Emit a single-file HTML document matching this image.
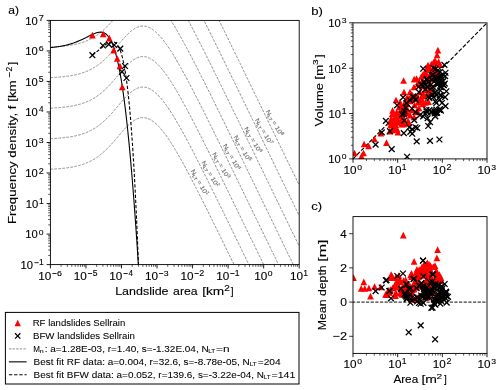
<!DOCTYPE html><html><head><meta charset="utf-8"><style>html,body{margin:0;padding:0;background:#fff;width:500px;height:390px;overflow:hidden} svg text{font-family:"Liberation Sans",sans-serif;stroke:#000;stroke-width:0.12px} g.lg text{stroke-width:0.06px}</style></head><body><svg width="500" height="390" viewBox="0 0 500 390" style="display:block;will-change:transform">
<rect width="500" height="390" fill="#fff"/>
<defs><clipPath id="ca"><rect x="50.4" y="20.4" width="248.79999999999998" height="244.20000000000002"/></clipPath>
<clipPath id="cb"><rect x="353.0" y="22.85" width="134.0" height="136.05"/></clipPath>
<clipPath id="cc"><rect x="353.0" y="216.6" width="134.0" height="136.79999999999998"/></clipPath></defs>
<g clip-path="url(#ca)" fill="none">
<path d="M50.40,169.21 L51.02,169.18 L51.65,169.15 L52.27,169.11 L52.89,169.08 L53.52,169.04 L54.14,169.01 L54.76,168.97 L55.39,168.93 L56.01,168.89 L56.64,168.85 L57.26,168.80 L57.88,168.76 L58.51,168.71 L59.13,168.66 L59.75,168.61 L60.38,168.56 L61.00,168.50 L61.62,168.44 L62.25,168.38 L62.87,168.32 L63.49,168.26 L64.12,168.19 L64.74,168.12 L65.37,168.04 L65.99,167.97 L66.61,167.89 L67.24,167.81 L67.86,167.72 L68.48,167.63 L69.11,167.54 L69.73,167.45 L70.35,167.35 L70.98,167.24 L71.60,167.14 L72.22,167.02 L72.85,166.91 L73.47,166.79 L74.10,166.66 L74.72,166.54 L75.34,166.40 L75.97,166.26 L76.59,166.12 L77.21,165.97 L77.84,165.81 L78.46,165.65 L79.08,165.49 L79.71,165.31 L80.33,165.13 L80.95,164.95 L81.58,164.76 L82.20,164.56 L82.83,164.35 L83.45,164.14 L84.07,163.91 L84.70,163.68 L85.32,163.45 L85.94,163.20 L86.57,162.95 L87.19,162.69 L87.81,162.42 L88.44,162.14 L89.06,161.85 L89.68,161.55 L90.31,161.24 L90.93,160.92 L91.55,160.59 L92.18,160.25 L92.80,159.90 L93.43,159.54 L94.05,159.17 L94.67,158.79 L95.30,158.39 L95.92,157.99 L96.54,157.57 L97.17,157.14 L97.79,156.70 L98.41,156.25 L99.04,155.79 L99.66,155.31 L100.28,154.82 L100.91,154.32 L101.53,153.81 L102.16,153.29 L102.78,152.75 L103.40,152.20 L104.03,151.64 L104.65,151.07 L105.27,150.48 L105.90,149.88 L106.52,149.28 L107.14,148.66 L107.77,148.03 L108.39,147.39 L109.01,146.74 L109.64,146.08 L110.26,145.41 L110.89,144.73 L111.51,144.04 L112.13,143.35 L112.76,142.64 L113.38,141.93 L114.00,141.22 L114.63,140.50 L115.25,139.77 L115.87,139.05 L116.50,138.31 L117.12,137.58 L117.74,136.85 L118.37,136.11 L118.99,135.38 L119.62,134.64 L120.24,133.91 L120.86,133.19 L121.49,132.46 L122.11,131.75 L122.73,131.04 L123.36,130.34 L123.98,129.64 L124.60,128.96 L125.23,128.29 L125.85,127.63 L126.47,126.98 L127.10,126.35 L127.72,125.73 L128.34,125.13 L128.97,124.54 L129.59,123.98 L130.22,123.43 L130.84,122.90 L131.46,122.40 L132.09,121.91 L132.71,121.45 L133.33,121.01 L133.96,120.60 L134.58,120.21 L135.20,119.84 L135.83,119.51 L136.45,119.19 L137.07,118.91 L137.70,118.65 L138.32,118.42 L138.95,118.22 L139.57,118.05 L140.19,117.91 L140.82,117.79 L141.44,117.71 L142.06,117.65 L142.69,117.63 L143.31,117.63 L143.93,117.66 L144.56,117.72 L145.18,117.81 L145.80,117.93 L146.43,118.08 L147.05,118.26 L147.68,118.47 L148.30,118.70 L148.92,118.96 L149.55,119.25 L150.17,119.57 L150.79,119.91 L151.42,120.29 L152.04,120.68 L152.66,121.10 L153.29,121.55 L153.91,122.02 L154.53,122.52 L155.16,123.04 L155.78,123.59 L156.41,124.15 L157.03,124.74 L157.65,125.35 L158.28,125.99 L158.90,126.64 L159.52,127.31 L160.15,128.01 L160.77,128.72 L161.39,129.45 L162.02,130.20 L162.64,130.97 L163.26,131.76 L163.89,132.56 L164.51,133.38 L165.13,134.22 L165.76,135.07 L166.38,135.93 L167.01,136.82 L167.63,137.71 L168.25,138.62 L168.88,139.54 L169.50,140.48 L170.12,141.42 L170.75,142.38 L171.37,143.35 L171.99,144.34 L172.62,145.33 L173.24,146.34 L173.86,147.35 L174.49,148.37 L175.11,149.41 L175.74,150.45 L176.36,151.50 L176.98,152.56 L177.61,153.63 L178.23,154.71 L178.85,155.80 L179.48,156.89 L180.10,157.99 L180.72,159.09 L181.35,160.21 L181.97,161.33 L182.59,162.45 L183.22,163.59 L183.84,164.72 L184.47,165.87 L185.09,167.02 L185.71,168.17 L186.34,169.33 L186.96,170.49 L187.58,171.66 L188.21,172.84 L188.83,174.01 L189.45,175.19 L190.08,176.38 L190.70,177.57 L191.32,178.76 L191.95,179.96 L192.57,181.16 L193.19,182.36 L193.82,183.57 L194.44,184.78 L195.07,185.99 L195.69,187.21 L196.31,188.43 L196.94,189.65 L197.56,190.87 L198.18,192.09 L198.81,193.32 L199.43,194.55 L200.05,195.79 L200.68,197.02 L201.30,198.26 L201.92,199.49 L202.55,200.73 L203.17,201.98 L203.80,203.22 L204.42,204.46 L205.04,205.71 L205.67,206.96 L206.29,208.21 L206.91,209.46 L207.54,210.71 L208.16,211.97 L208.78,213.22 L209.41,214.48 L210.03,215.74 L210.65,216.99 L211.28,218.25 L211.90,219.51 L212.53,220.78 L213.15,222.04 L213.77,223.30 L214.40,224.57 L215.02,225.83 L215.64,227.10 L216.27,228.36 L216.89,229.63 L217.51,230.90 L218.14,232.17 L218.76,233.44 L219.38,234.71 L220.01,235.98 L220.63,237.25 L221.26,238.52 L221.88,239.79 L222.50,241.06 L223.13,242.34 L223.75,243.61 L224.37,244.89 L225.00,246.16 L225.62,247.44 L226.24,248.71 L226.87,249.99 L227.49,251.26 L228.11,252.54 L228.74,253.82 L229.36,255.09 L229.98,256.37 L230.61,257.65 L231.23,258.93 L231.86,260.21 L232.48,261.48 L233.10,262.76 L233.73,264.04 L234.35,265.32 L234.97,266.60 L235.60,267.88 L236.22,269.16 L236.84,270.44 L237.47,271.72 L238.09,273.00 L238.71,274.28 L239.34,275.56 L239.96,276.85 L240.59,278.13 L241.21,279.41 L241.83,280.69 L242.46,281.97 L243.08,283.25 L243.70,284.54 L244.33,285.82 L244.95,287.10 L245.57,288.38 L246.20,289.67 L246.82,290.95 L247.44,292.23 L248.07,293.51 L248.69,294.80 L249.32,296.08 L249.94,297.36 L250.56,298.65 L251.19,299.93 L251.81,301.21 L252.43,302.50 L253.06,303.78 L253.68,305.06 L254.30,306.35 L254.93,307.63 L255.55,308.92 L256.17,310.20 L256.80,311.48 L257.42,312.77 L258.05,314.05 L258.67,315.33 L259.29,316.62 L259.92,317.90 L260.54,319.19 L261.16,320.47 L261.79,321.76 L262.41,323.04 L263.03,324.32 L263.66,325.61 L264.28,326.89 L264.90,328.18 L265.53,329.46 L266.15,330.75 L266.77,332.03 L267.40,333.32 L268.02,334.60 L268.65,335.89 L269.27,337.17 L269.89,338.45 L270.52,339.74 L271.14,341.02 L271.76,342.31 L272.39,343.59 L273.01,344.88 L273.63,346.16 L274.26,347.45 L274.88,348.73 L275.50,350.02 L276.13,351.30 L276.75,352.59 L277.38,353.87 L278.00,355.16 L278.62,356.44 L279.25,357.73 L279.87,359.01 L280.49,360.30 L281.12,361.58 L281.74,362.87 L282.36,364.15 L282.99,365.44 L283.61,366.72 L284.23,368.01 L284.86,369.29 L285.48,370.58 L286.11,371.86 L286.73,373.15 L287.35,374.43 L287.98,375.72 L288.60,377.00 L289.22,378.29 L289.85,379.57 L290.47,380.86 L291.09,382.14 L291.72,383.43 L292.34,384.71 L292.96,386.00 L293.59,387.28 L294.21,388.57 L294.84,389.85 L295.46,391.14 L296.08,392.42 L296.71,393.71 L297.33,394.99 L297.95,396.28 L298.58,397.56 L299.20,398.85" stroke="#777" stroke-width="0.85" stroke-dasharray="2.7,1.3"/>
<path d="M50.40,138.68 L51.02,138.65 L51.65,138.62 L52.27,138.59 L52.89,138.55 L53.52,138.52 L54.14,138.48 L54.76,138.45 L55.39,138.41 L56.01,138.37 L56.64,138.32 L57.26,138.28 L57.88,138.23 L58.51,138.19 L59.13,138.14 L59.75,138.09 L60.38,138.03 L61.00,137.98 L61.62,137.92 L62.25,137.86 L62.87,137.80 L63.49,137.73 L64.12,137.66 L64.74,137.59 L65.37,137.52 L65.99,137.44 L66.61,137.36 L67.24,137.28 L67.86,137.20 L68.48,137.11 L69.11,137.02 L69.73,136.92 L70.35,136.82 L70.98,136.72 L71.60,136.61 L72.22,136.50 L72.85,136.38 L73.47,136.26 L74.10,136.14 L74.72,136.01 L75.34,135.88 L75.97,135.74 L76.59,135.59 L77.21,135.44 L77.84,135.29 L78.46,135.13 L79.08,134.96 L79.71,134.79 L80.33,134.61 L80.95,134.42 L81.58,134.23 L82.20,134.03 L82.83,133.82 L83.45,133.61 L84.07,133.39 L84.70,133.16 L85.32,132.92 L85.94,132.68 L86.57,132.42 L87.19,132.16 L87.81,131.89 L88.44,131.61 L89.06,131.32 L89.68,131.02 L90.31,130.71 L90.93,130.39 L91.55,130.07 L92.18,129.73 L92.80,129.38 L93.43,129.02 L94.05,128.65 L94.67,128.26 L95.30,127.87 L95.92,127.46 L96.54,127.05 L97.17,126.62 L97.79,126.18 L98.41,125.73 L99.04,125.26 L99.66,124.79 L100.28,124.30 L100.91,123.80 L101.53,123.29 L102.16,122.76 L102.78,122.22 L103.40,121.67 L104.03,121.11 L104.65,120.54 L105.27,119.96 L105.90,119.36 L106.52,118.75 L107.14,118.13 L107.77,117.50 L108.39,116.86 L109.01,116.21 L109.64,115.55 L110.26,114.88 L110.89,114.20 L111.51,113.52 L112.13,112.82 L112.76,112.12 L113.38,111.41 L114.00,110.69 L114.63,109.97 L115.25,109.25 L115.87,108.52 L116.50,107.79 L117.12,107.06 L117.74,106.32 L118.37,105.59 L118.99,104.85 L119.62,104.12 L120.24,103.39 L120.86,102.66 L121.49,101.94 L122.11,101.22 L122.73,100.51 L123.36,99.81 L123.98,99.12 L124.60,98.43 L125.23,97.76 L125.85,97.10 L126.47,96.45 L127.10,95.82 L127.72,95.20 L128.34,94.60 L128.97,94.02 L129.59,93.45 L130.22,92.90 L130.84,92.38 L131.46,91.87 L132.09,91.39 L132.71,90.93 L133.33,90.49 L133.96,90.07 L134.58,89.68 L135.20,89.32 L135.83,88.98 L136.45,88.67 L137.07,88.39 L137.70,88.13 L138.32,87.90 L138.95,87.70 L139.57,87.53 L140.19,87.38 L140.82,87.27 L141.44,87.18 L142.06,87.13 L142.69,87.10 L143.31,87.10 L143.93,87.14 L144.56,87.20 L145.18,87.29 L145.80,87.41 L146.43,87.56 L147.05,87.74 L147.68,87.94 L148.30,88.18 L148.92,88.44 L149.55,88.73 L150.17,89.05 L150.79,89.39 L151.42,89.76 L152.04,90.16 L152.66,90.58 L153.29,91.03 L153.91,91.50 L154.53,92.00 L155.16,92.52 L155.78,93.06 L156.41,93.63 L157.03,94.22 L157.65,94.83 L158.28,95.46 L158.90,96.12 L159.52,96.79 L160.15,97.48 L160.77,98.20 L161.39,98.93 L162.02,99.68 L162.64,100.45 L163.26,101.23 L163.89,102.04 L164.51,102.86 L165.13,103.69 L165.76,104.54 L166.38,105.41 L167.01,106.29 L167.63,107.19 L168.25,108.09 L168.88,109.02 L169.50,109.95 L170.12,110.90 L170.75,111.86 L171.37,112.83 L171.99,113.81 L172.62,114.81 L173.24,115.81 L173.86,116.82 L174.49,117.85 L175.11,118.88 L175.74,119.93 L176.36,120.98 L176.98,122.04 L177.61,123.11 L178.23,124.19 L178.85,125.27 L179.48,126.36 L180.10,127.46 L180.72,128.57 L181.35,129.68 L181.97,130.80 L182.59,131.93 L183.22,133.06 L183.84,134.20 L184.47,135.34 L185.09,136.49 L185.71,137.65 L186.34,138.81 L186.96,139.97 L187.58,141.14 L188.21,142.31 L188.83,143.49 L189.45,144.67 L190.08,145.86 L190.70,147.04 L191.32,148.24 L191.95,149.43 L192.57,150.63 L193.19,151.84 L193.82,153.04 L194.44,154.25 L195.07,155.47 L195.69,156.68 L196.31,157.90 L196.94,159.12 L197.56,160.34 L198.18,161.57 L198.81,162.80 L199.43,164.03 L200.05,165.26 L200.68,166.49 L201.30,167.73 L201.92,168.97 L202.55,170.21 L203.17,171.45 L203.80,172.69 L204.42,173.94 L205.04,175.19 L205.67,176.43 L206.29,177.68 L206.91,178.94 L207.54,180.19 L208.16,181.44 L208.78,182.70 L209.41,183.95 L210.03,185.21 L210.65,186.47 L211.28,187.73 L211.90,188.99 L212.53,190.25 L213.15,191.51 L213.77,192.78 L214.40,194.04 L215.02,195.31 L215.64,196.57 L216.27,197.84 L216.89,199.10 L217.51,200.37 L218.14,201.64 L218.76,202.91 L219.38,204.18 L220.01,205.45 L220.63,206.72 L221.26,207.99 L221.88,209.27 L222.50,210.54 L223.13,211.81 L223.75,213.09 L224.37,214.36 L225.00,215.64 L225.62,216.91 L226.24,218.19 L226.87,219.46 L227.49,220.74 L228.11,222.01 L228.74,223.29 L229.36,224.57 L229.98,225.85 L230.61,227.12 L231.23,228.40 L231.86,229.68 L232.48,230.96 L233.10,232.24 L233.73,233.52 L234.35,234.80 L234.97,236.08 L235.60,237.36 L236.22,238.64 L236.84,239.92 L237.47,241.20 L238.09,242.48 L238.71,243.76 L239.34,245.04 L239.96,246.32 L240.59,247.60 L241.21,248.88 L241.83,250.17 L242.46,251.45 L243.08,252.73 L243.70,254.01 L244.33,255.29 L244.95,256.58 L245.57,257.86 L246.20,259.14 L246.82,260.42 L247.44,261.71 L248.07,262.99 L248.69,264.27 L249.32,265.56 L249.94,266.84 L250.56,268.12 L251.19,269.40 L251.81,270.69 L252.43,271.97 L253.06,273.26 L253.68,274.54 L254.30,275.82 L254.93,277.11 L255.55,278.39 L256.17,279.67 L256.80,280.96 L257.42,282.24 L258.05,283.53 L258.67,284.81 L259.29,286.09 L259.92,287.38 L260.54,288.66 L261.16,289.95 L261.79,291.23 L262.41,292.52 L263.03,293.80 L263.66,295.08 L264.28,296.37 L264.90,297.65 L265.53,298.94 L266.15,300.22 L266.77,301.51 L267.40,302.79 L268.02,304.08 L268.65,305.36 L269.27,306.64 L269.89,307.93 L270.52,309.21 L271.14,310.50 L271.76,311.78 L272.39,313.07 L273.01,314.35 L273.63,315.64 L274.26,316.92 L274.88,318.21 L275.50,319.49 L276.13,320.78 L276.75,322.06 L277.38,323.35 L278.00,324.63 L278.62,325.92 L279.25,327.20 L279.87,328.49 L280.49,329.77 L281.12,331.06 L281.74,332.34 L282.36,333.63 L282.99,334.91 L283.61,336.20 L284.23,337.48 L284.86,338.77 L285.48,340.05 L286.11,341.34 L286.73,342.62 L287.35,343.91 L287.98,345.19 L288.60,346.48 L289.22,347.76 L289.85,349.05 L290.47,350.33 L291.09,351.62 L291.72,352.90 L292.34,354.19 L292.96,355.47 L293.59,356.76 L294.21,358.04 L294.84,359.33 L295.46,360.61 L296.08,361.90 L296.71,363.18 L297.33,364.47 L297.95,365.75 L298.58,367.04 L299.20,368.32" stroke="#777" stroke-width="0.85" stroke-dasharray="2.7,1.3"/>
<path d="M50.40,108.16 L51.02,108.13 L51.65,108.10 L52.27,108.06 L52.89,108.03 L53.52,107.99 L54.14,107.96 L54.76,107.92 L55.39,107.88 L56.01,107.84 L56.64,107.80 L57.26,107.75 L57.88,107.71 L58.51,107.66 L59.13,107.61 L59.75,107.56 L60.38,107.51 L61.00,107.45 L61.62,107.39 L62.25,107.33 L62.87,107.27 L63.49,107.21 L64.12,107.14 L64.74,107.07 L65.37,106.99 L65.99,106.92 L66.61,106.84 L67.24,106.76 L67.86,106.67 L68.48,106.58 L69.11,106.49 L69.73,106.40 L70.35,106.30 L70.98,106.19 L71.60,106.09 L72.22,105.97 L72.85,105.86 L73.47,105.74 L74.10,105.61 L74.72,105.49 L75.34,105.35 L75.97,105.21 L76.59,105.07 L77.21,104.92 L77.84,104.76 L78.46,104.60 L79.08,104.44 L79.71,104.26 L80.33,104.08 L80.95,103.90 L81.58,103.71 L82.20,103.51 L82.83,103.30 L83.45,103.09 L84.07,102.86 L84.70,102.63 L85.32,102.40 L85.94,102.15 L86.57,101.90 L87.19,101.64 L87.81,101.37 L88.44,101.09 L89.06,100.80 L89.68,100.50 L90.31,100.19 L90.93,99.87 L91.55,99.54 L92.18,99.20 L92.80,98.85 L93.43,98.49 L94.05,98.12 L94.67,97.74 L95.30,97.34 L95.92,96.94 L96.54,96.52 L97.17,96.09 L97.79,95.65 L98.41,95.20 L99.04,94.74 L99.66,94.26 L100.28,93.77 L100.91,93.27 L101.53,92.76 L102.16,92.24 L102.78,91.70 L103.40,91.15 L104.03,90.59 L104.65,90.02 L105.27,89.43 L105.90,88.83 L106.52,88.23 L107.14,87.61 L107.77,86.98 L108.39,86.34 L109.01,85.69 L109.64,85.03 L110.26,84.36 L110.89,83.68 L111.51,82.99 L112.13,82.30 L112.76,81.59 L113.38,80.88 L114.00,80.17 L114.63,79.45 L115.25,78.72 L115.87,78.00 L116.50,77.26 L117.12,76.53 L117.74,75.80 L118.37,75.06 L118.99,74.33 L119.62,73.59 L120.24,72.86 L120.86,72.14 L121.49,71.41 L122.11,70.70 L122.73,69.99 L123.36,69.29 L123.98,68.59 L124.60,67.91 L125.23,67.24 L125.85,66.58 L126.47,65.93 L127.10,65.30 L127.72,64.68 L128.34,64.08 L128.97,63.49 L129.59,62.93 L130.22,62.38 L130.84,61.85 L131.46,61.35 L132.09,60.86 L132.71,60.40 L133.33,59.96 L133.96,59.55 L134.58,59.16 L135.20,58.79 L135.83,58.46 L136.45,58.14 L137.07,57.86 L137.70,57.60 L138.32,57.37 L138.95,57.17 L139.57,57.00 L140.19,56.86 L140.82,56.74 L141.44,56.66 L142.06,56.60 L142.69,56.58 L143.31,56.58 L143.93,56.61 L144.56,56.67 L145.18,56.76 L145.80,56.88 L146.43,57.03 L147.05,57.21 L147.68,57.42 L148.30,57.65 L148.92,57.91 L149.55,58.20 L150.17,58.52 L150.79,58.86 L151.42,59.24 L152.04,59.63 L152.66,60.05 L153.29,60.50 L153.91,60.97 L154.53,61.47 L155.16,61.99 L155.78,62.54 L156.41,63.10 L157.03,63.69 L157.65,64.30 L158.28,64.94 L158.90,65.59 L159.52,66.26 L160.15,66.96 L160.77,67.67 L161.39,68.40 L162.02,69.15 L162.64,69.92 L163.26,70.71 L163.89,71.51 L164.51,72.33 L165.13,73.17 L165.76,74.02 L166.38,74.88 L167.01,75.77 L167.63,76.66 L168.25,77.57 L168.88,78.49 L169.50,79.43 L170.12,80.37 L170.75,81.33 L171.37,82.30 L171.99,83.29 L172.62,84.28 L173.24,85.29 L173.86,86.30 L174.49,87.32 L175.11,88.36 L175.74,89.40 L176.36,90.45 L176.98,91.51 L177.61,92.58 L178.23,93.66 L178.85,94.75 L179.48,95.84 L180.10,96.94 L180.72,98.04 L181.35,99.16 L181.97,100.28 L182.59,101.40 L183.22,102.54 L183.84,103.67 L184.47,104.82 L185.09,105.97 L185.71,107.12 L186.34,108.28 L186.96,109.44 L187.58,110.61 L188.21,111.79 L188.83,112.96 L189.45,114.14 L190.08,115.33 L190.70,116.52 L191.32,117.71 L191.95,118.91 L192.57,120.11 L193.19,121.31 L193.82,122.52 L194.44,123.73 L195.07,124.94 L195.69,126.16 L196.31,127.38 L196.94,128.60 L197.56,129.82 L198.18,131.04 L198.81,132.27 L199.43,133.50 L200.05,134.74 L200.68,135.97 L201.30,137.21 L201.92,138.44 L202.55,139.68 L203.17,140.93 L203.80,142.17 L204.42,143.41 L205.04,144.66 L205.67,145.91 L206.29,147.16 L206.91,148.41 L207.54,149.66 L208.16,150.92 L208.78,152.17 L209.41,153.43 L210.03,154.69 L210.65,155.94 L211.28,157.20 L211.90,158.46 L212.53,159.73 L213.15,160.99 L213.77,162.25 L214.40,163.52 L215.02,164.78 L215.64,166.05 L216.27,167.31 L216.89,168.58 L217.51,169.85 L218.14,171.12 L218.76,172.39 L219.38,173.66 L220.01,174.93 L220.63,176.20 L221.26,177.47 L221.88,178.74 L222.50,180.01 L223.13,181.29 L223.75,182.56 L224.37,183.84 L225.00,185.11 L225.62,186.39 L226.24,187.66 L226.87,188.94 L227.49,190.21 L228.11,191.49 L228.74,192.77 L229.36,194.04 L229.98,195.32 L230.61,196.60 L231.23,197.88 L231.86,199.16 L232.48,200.43 L233.10,201.71 L233.73,202.99 L234.35,204.27 L234.97,205.55 L235.60,206.83 L236.22,208.11 L236.84,209.39 L237.47,210.67 L238.09,211.95 L238.71,213.23 L239.34,214.51 L239.96,215.80 L240.59,217.08 L241.21,218.36 L241.83,219.64 L242.46,220.92 L243.08,222.20 L243.70,223.49 L244.33,224.77 L244.95,226.05 L245.57,227.33 L246.20,228.62 L246.82,229.90 L247.44,231.18 L248.07,232.46 L248.69,233.75 L249.32,235.03 L249.94,236.31 L250.56,237.60 L251.19,238.88 L251.81,240.16 L252.43,241.45 L253.06,242.73 L253.68,244.01 L254.30,245.30 L254.93,246.58 L255.55,247.87 L256.17,249.15 L256.80,250.43 L257.42,251.72 L258.05,253.00 L258.67,254.28 L259.29,255.57 L259.92,256.85 L260.54,258.14 L261.16,259.42 L261.79,260.71 L262.41,261.99 L263.03,263.27 L263.66,264.56 L264.28,265.84 L264.90,267.13 L265.53,268.41 L266.15,269.70 L266.77,270.98 L267.40,272.27 L268.02,273.55 L268.65,274.84 L269.27,276.12 L269.89,277.40 L270.52,278.69 L271.14,279.97 L271.76,281.26 L272.39,282.54 L273.01,283.83 L273.63,285.11 L274.26,286.40 L274.88,287.68 L275.50,288.97 L276.13,290.25 L276.75,291.54 L277.38,292.82 L278.00,294.11 L278.62,295.39 L279.25,296.68 L279.87,297.96 L280.49,299.25 L281.12,300.53 L281.74,301.82 L282.36,303.10 L282.99,304.39 L283.61,305.67 L284.23,306.96 L284.86,308.24 L285.48,309.53 L286.11,310.81 L286.73,312.10 L287.35,313.38 L287.98,314.67 L288.60,315.95 L289.22,317.24 L289.85,318.52 L290.47,319.81 L291.09,321.09 L291.72,322.38 L292.34,323.66 L292.96,324.95 L293.59,326.23 L294.21,327.52 L294.84,328.80 L295.46,330.09 L296.08,331.37 L296.71,332.66 L297.33,333.94 L297.95,335.23 L298.58,336.51 L299.20,337.80" stroke="#777" stroke-width="0.85" stroke-dasharray="2.7,1.3"/>
<path d="M50.40,77.63 L51.02,77.60 L51.65,77.57 L52.27,77.54 L52.89,77.50 L53.52,77.47 L54.14,77.43 L54.76,77.40 L55.39,77.36 L56.01,77.32 L56.64,77.27 L57.26,77.23 L57.88,77.18 L58.51,77.14 L59.13,77.09 L59.75,77.04 L60.38,76.98 L61.00,76.93 L61.62,76.87 L62.25,76.81 L62.87,76.75 L63.49,76.68 L64.12,76.61 L64.74,76.54 L65.37,76.47 L65.99,76.39 L66.61,76.31 L67.24,76.23 L67.86,76.15 L68.48,76.06 L69.11,75.97 L69.73,75.87 L70.35,75.77 L70.98,75.67 L71.60,75.56 L72.22,75.45 L72.85,75.33 L73.47,75.21 L74.10,75.09 L74.72,74.96 L75.34,74.83 L75.97,74.69 L76.59,74.54 L77.21,74.39 L77.84,74.24 L78.46,74.08 L79.08,73.91 L79.71,73.74 L80.33,73.56 L80.95,73.37 L81.58,73.18 L82.20,72.98 L82.83,72.77 L83.45,72.56 L84.07,72.34 L84.70,72.11 L85.32,71.87 L85.94,71.63 L86.57,71.37 L87.19,71.11 L87.81,70.84 L88.44,70.56 L89.06,70.27 L89.68,69.97 L90.31,69.66 L90.93,69.34 L91.55,69.02 L92.18,68.68 L92.80,68.33 L93.43,67.97 L94.05,67.60 L94.67,67.21 L95.30,66.82 L95.92,66.41 L96.54,66.00 L97.17,65.57 L97.79,65.13 L98.41,64.68 L99.04,64.21 L99.66,63.74 L100.28,63.25 L100.91,62.75 L101.53,62.24 L102.16,61.71 L102.78,61.17 L103.40,60.62 L104.03,60.06 L104.65,59.49 L105.27,58.91 L105.90,58.31 L106.52,57.70 L107.14,57.08 L107.77,56.45 L108.39,55.81 L109.01,55.16 L109.64,54.50 L110.26,53.83 L110.89,53.15 L111.51,52.47 L112.13,51.77 L112.76,51.07 L113.38,50.36 L114.00,49.64 L114.63,48.92 L115.25,48.20 L115.87,47.47 L116.50,46.74 L117.12,46.01 L117.74,45.27 L118.37,44.54 L118.99,43.80 L119.62,43.07 L120.24,42.34 L120.86,41.61 L121.49,40.89 L122.11,40.17 L122.73,39.46 L123.36,38.76 L123.98,38.07 L124.60,37.38 L125.23,36.71 L125.85,36.05 L126.47,35.40 L127.10,34.77 L127.72,34.15 L128.34,33.55 L128.97,32.97 L129.59,32.40 L130.22,31.85 L130.84,31.33 L131.46,30.82 L132.09,30.34 L132.71,29.88 L133.33,29.44 L133.96,29.02 L134.58,28.63 L135.20,28.27 L135.83,27.93 L136.45,27.62 L137.07,27.34 L137.70,27.08 L138.32,26.85 L138.95,26.65 L139.57,26.48 L140.19,26.33 L140.82,26.22 L141.44,26.13 L142.06,26.08 L142.69,26.05 L143.31,26.05 L143.93,26.09 L144.56,26.15 L145.18,26.24 L145.80,26.36 L146.43,26.51 L147.05,26.69 L147.68,26.89 L148.30,27.13 L148.92,27.39 L149.55,27.68 L150.17,28.00 L150.79,28.34 L151.42,28.71 L152.04,29.11 L152.66,29.53 L153.29,29.98 L153.91,30.45 L154.53,30.95 L155.16,31.47 L155.78,32.01 L156.41,32.58 L157.03,33.17 L157.65,33.78 L158.28,34.41 L158.90,35.07 L159.52,35.74 L160.15,36.43 L160.77,37.15 L161.39,37.88 L162.02,38.63 L162.64,39.40 L163.26,40.18 L163.89,40.99 L164.51,41.81 L165.13,42.64 L165.76,43.49 L166.38,44.36 L167.01,45.24 L167.63,46.14 L168.25,47.04 L168.88,47.97 L169.50,48.90 L170.12,49.85 L170.75,50.81 L171.37,51.78 L171.99,52.76 L172.62,53.76 L173.24,54.76 L173.86,55.77 L174.49,56.80 L175.11,57.83 L175.74,58.88 L176.36,59.93 L176.98,60.99 L177.61,62.06 L178.23,63.14 L178.85,64.22 L179.48,65.31 L180.10,66.41 L180.72,67.52 L181.35,68.63 L181.97,69.75 L182.59,70.88 L183.22,72.01 L183.84,73.15 L184.47,74.29 L185.09,75.44 L185.71,76.60 L186.34,77.76 L186.96,78.92 L187.58,80.09 L188.21,81.26 L188.83,82.44 L189.45,83.62 L190.08,84.81 L190.70,85.99 L191.32,87.19 L191.95,88.38 L192.57,89.58 L193.19,90.79 L193.82,91.99 L194.44,93.20 L195.07,94.42 L195.69,95.63 L196.31,96.85 L196.94,98.07 L197.56,99.29 L198.18,100.52 L198.81,101.75 L199.43,102.98 L200.05,104.21 L200.68,105.44 L201.30,106.68 L201.92,107.92 L202.55,109.16 L203.17,110.40 L203.80,111.64 L204.42,112.89 L205.04,114.14 L205.67,115.38 L206.29,116.63 L206.91,117.89 L207.54,119.14 L208.16,120.39 L208.78,121.65 L209.41,122.90 L210.03,124.16 L210.65,125.42 L211.28,126.68 L211.90,127.94 L212.53,129.20 L213.15,130.46 L213.77,131.73 L214.40,132.99 L215.02,134.26 L215.64,135.52 L216.27,136.79 L216.89,138.05 L217.51,139.32 L218.14,140.59 L218.76,141.86 L219.38,143.13 L220.01,144.40 L220.63,145.67 L221.26,146.94 L221.88,148.22 L222.50,149.49 L223.13,150.76 L223.75,152.04 L224.37,153.31 L225.00,154.59 L225.62,155.86 L226.24,157.14 L226.87,158.41 L227.49,159.69 L228.11,160.96 L228.74,162.24 L229.36,163.52 L229.98,164.80 L230.61,166.07 L231.23,167.35 L231.86,168.63 L232.48,169.91 L233.10,171.19 L233.73,172.47 L234.35,173.75 L234.97,175.03 L235.60,176.31 L236.22,177.59 L236.84,178.87 L237.47,180.15 L238.09,181.43 L238.71,182.71 L239.34,183.99 L239.96,185.27 L240.59,186.55 L241.21,187.83 L241.83,189.12 L242.46,190.40 L243.08,191.68 L243.70,192.96 L244.33,194.24 L244.95,195.53 L245.57,196.81 L246.20,198.09 L246.82,199.37 L247.44,200.66 L248.07,201.94 L248.69,203.22 L249.32,204.51 L249.94,205.79 L250.56,207.07 L251.19,208.35 L251.81,209.64 L252.43,210.92 L253.06,212.21 L253.68,213.49 L254.30,214.77 L254.93,216.06 L255.55,217.34 L256.17,218.62 L256.80,219.91 L257.42,221.19 L258.05,222.48 L258.67,223.76 L259.29,225.04 L259.92,226.33 L260.54,227.61 L261.16,228.90 L261.79,230.18 L262.41,231.47 L263.03,232.75 L263.66,234.03 L264.28,235.32 L264.90,236.60 L265.53,237.89 L266.15,239.17 L266.77,240.46 L267.40,241.74 L268.02,243.03 L268.65,244.31 L269.27,245.59 L269.89,246.88 L270.52,248.16 L271.14,249.45 L271.76,250.73 L272.39,252.02 L273.01,253.30 L273.63,254.59 L274.26,255.87 L274.88,257.16 L275.50,258.44 L276.13,259.73 L276.75,261.01 L277.38,262.30 L278.00,263.58 L278.62,264.87 L279.25,266.15 L279.87,267.44 L280.49,268.72 L281.12,270.01 L281.74,271.29 L282.36,272.58 L282.99,273.86 L283.61,275.15 L284.23,276.43 L284.86,277.72 L285.48,279.00 L286.11,280.29 L286.73,281.57 L287.35,282.86 L287.98,284.14 L288.60,285.43 L289.22,286.71 L289.85,288.00 L290.47,289.28 L291.09,290.57 L291.72,291.85 L292.34,293.14 L292.96,294.42 L293.59,295.71 L294.21,296.99 L294.84,298.28 L295.46,299.56 L296.08,300.85 L296.71,302.13 L297.33,303.42 L297.95,304.70 L298.58,305.99 L299.20,307.27" stroke="#777" stroke-width="0.85" stroke-dasharray="2.7,1.3"/>
<path d="M50.40,47.11 L51.02,47.08 L51.65,47.05 L52.27,47.01 L52.89,46.98 L53.52,46.94 L54.14,46.91 L54.76,46.87 L55.39,46.83 L56.01,46.79 L56.64,46.75 L57.26,46.70 L57.88,46.66 L58.51,46.61 L59.13,46.56 L59.75,46.51 L60.38,46.46 L61.00,46.40 L61.62,46.34 L62.25,46.28 L62.87,46.22 L63.49,46.16 L64.12,46.09 L64.74,46.02 L65.37,45.94 L65.99,45.87 L66.61,45.79 L67.24,45.71 L67.86,45.62 L68.48,45.53 L69.11,45.44 L69.73,45.35 L70.35,45.25 L70.98,45.14 L71.60,45.04 L72.22,44.92 L72.85,44.81 L73.47,44.69 L74.10,44.56 L74.72,44.44 L75.34,44.30 L75.97,44.16 L76.59,44.02 L77.21,43.87 L77.84,43.71 L78.46,43.55 L79.08,43.39 L79.71,43.21 L80.33,43.03 L80.95,42.85 L81.58,42.66 L82.20,42.46 L82.83,42.25 L83.45,42.04 L84.07,41.81 L84.70,41.58 L85.32,41.35 L85.94,41.10 L86.57,40.85 L87.19,40.59 L87.81,40.32 L88.44,40.04 L89.06,39.75 L89.68,39.45 L90.31,39.14 L90.93,38.82 L91.55,38.49 L92.18,38.15 L92.80,37.80 L93.43,37.44 L94.05,37.07 L94.67,36.69 L95.30,36.29 L95.92,35.89 L96.54,35.47 L97.17,35.04 L97.79,34.60 L98.41,34.15 L99.04,33.69 L99.66,33.21 L100.28,32.72 L100.91,32.22 L101.53,31.71 L102.16,31.19 L102.78,30.65 L103.40,30.10 L104.03,29.54 L104.65,28.97 L105.27,28.38 L105.90,27.78 L106.52,27.18 L107.14,26.56 L107.77,25.93 L108.39,25.29 L109.01,24.64 L109.64,23.98 L110.26,23.31 L110.89,22.63 L111.51,21.94 L112.13,21.25 L112.76,20.54 L113.38,19.83 L114.00,19.12 L114.63,18.40 L115.25,17.67 L115.87,16.95 L116.50,16.21 L117.12,15.48 L117.74,14.75 L118.37,14.01 L118.99,13.28 L119.62,12.54 L120.24,11.81 L120.86,11.09 L121.49,10.36 L122.11,9.65 L122.73,8.94 L123.36,8.24 L123.98,7.54 L124.60,6.86 L125.23,6.19 L125.85,5.53 L126.47,4.88 L127.10,4.25 L127.72,3.63 L128.34,3.03 L128.97,2.44 L129.59,1.88 L130.22,1.33 L130.84,0.80 L131.46,0.30 L132.09,-0.19 L132.71,-0.65 L133.33,-1.09 L133.96,-1.50 L134.58,-1.89 L135.20,-2.26 L135.83,-2.59 L136.45,-2.91 L137.07,-3.19 L137.70,-3.45 L138.32,-3.68 L138.95,-3.88 L139.57,-4.05 L140.19,-4.19 L140.82,-4.31 L141.44,-4.39 L142.06,-4.45 L142.69,-4.47 L143.31,-4.47 L143.93,-4.44 L144.56,-4.38 L145.18,-4.29 L145.80,-4.17 L146.43,-4.02 L147.05,-3.84 L147.68,-3.63 L148.30,-3.40 L148.92,-3.14 L149.55,-2.85 L150.17,-2.53 L150.79,-2.19 L151.42,-1.81 L152.04,-1.42 L152.66,-1.00 L153.29,-0.55 L153.91,-0.08 L154.53,0.42 L155.16,0.94 L155.78,1.49 L156.41,2.05 L157.03,2.64 L157.65,3.25 L158.28,3.89 L158.90,4.54 L159.52,5.21 L160.15,5.91 L160.77,6.62 L161.39,7.35 L162.02,8.10 L162.64,8.87 L163.26,9.66 L163.89,10.46 L164.51,11.28 L165.13,12.12 L165.76,12.97 L166.38,13.83 L167.01,14.72 L167.63,15.61 L168.25,16.52 L168.88,17.44 L169.50,18.38 L170.12,19.32 L170.75,20.28 L171.37,21.25 L171.99,22.24 L172.62,23.23 L173.24,24.24 L173.86,25.25 L174.49,26.27 L175.11,27.31 L175.74,28.35 L176.36,29.40 L176.98,30.46 L177.61,31.53 L178.23,32.61 L178.85,33.70 L179.48,34.79 L180.10,35.89 L180.72,36.99 L181.35,38.11 L181.97,39.23 L182.59,40.35 L183.22,41.49 L183.84,42.62 L184.47,43.77 L185.09,44.92 L185.71,46.07 L186.34,47.23 L186.96,48.39 L187.58,49.56 L188.21,50.74 L188.83,51.91 L189.45,53.09 L190.08,54.28 L190.70,55.47 L191.32,56.66 L191.95,57.86 L192.57,59.06 L193.19,60.26 L193.82,61.47 L194.44,62.68 L195.07,63.89 L195.69,65.11 L196.31,66.33 L196.94,67.55 L197.56,68.77 L198.18,69.99 L198.81,71.22 L199.43,72.45 L200.05,73.69 L200.68,74.92 L201.30,76.16 L201.92,77.39 L202.55,78.63 L203.17,79.88 L203.80,81.12 L204.42,82.36 L205.04,83.61 L205.67,84.86 L206.29,86.11 L206.91,87.36 L207.54,88.61 L208.16,89.87 L208.78,91.12 L209.41,92.38 L210.03,93.64 L210.65,94.89 L211.28,96.15 L211.90,97.41 L212.53,98.68 L213.15,99.94 L213.77,101.20 L214.40,102.47 L215.02,103.73 L215.64,105.00 L216.27,106.26 L216.89,107.53 L217.51,108.80 L218.14,110.07 L218.76,111.34 L219.38,112.61 L220.01,113.88 L220.63,115.15 L221.26,116.42 L221.88,117.69 L222.50,118.96 L223.13,120.24 L223.75,121.51 L224.37,122.79 L225.00,124.06 L225.62,125.34 L226.24,126.61 L226.87,127.89 L227.49,129.16 L228.11,130.44 L228.74,131.72 L229.36,132.99 L229.98,134.27 L230.61,135.55 L231.23,136.83 L231.86,138.11 L232.48,139.38 L233.10,140.66 L233.73,141.94 L234.35,143.22 L234.97,144.50 L235.60,145.78 L236.22,147.06 L236.84,148.34 L237.47,149.62 L238.09,150.90 L238.71,152.18 L239.34,153.46 L239.96,154.75 L240.59,156.03 L241.21,157.31 L241.83,158.59 L242.46,159.87 L243.08,161.15 L243.70,162.44 L244.33,163.72 L244.95,165.00 L245.57,166.28 L246.20,167.57 L246.82,168.85 L247.44,170.13 L248.07,171.41 L248.69,172.70 L249.32,173.98 L249.94,175.26 L250.56,176.55 L251.19,177.83 L251.81,179.11 L252.43,180.40 L253.06,181.68 L253.68,182.96 L254.30,184.25 L254.93,185.53 L255.55,186.82 L256.17,188.10 L256.80,189.38 L257.42,190.67 L258.05,191.95 L258.67,193.23 L259.29,194.52 L259.92,195.80 L260.54,197.09 L261.16,198.37 L261.79,199.66 L262.41,200.94 L263.03,202.22 L263.66,203.51 L264.28,204.79 L264.90,206.08 L265.53,207.36 L266.15,208.65 L266.77,209.93 L267.40,211.22 L268.02,212.50 L268.65,213.79 L269.27,215.07 L269.89,216.35 L270.52,217.64 L271.14,218.92 L271.76,220.21 L272.39,221.49 L273.01,222.78 L273.63,224.06 L274.26,225.35 L274.88,226.63 L275.50,227.92 L276.13,229.20 L276.75,230.49 L277.38,231.77 L278.00,233.06 L278.62,234.34 L279.25,235.63 L279.87,236.91 L280.49,238.20 L281.12,239.48 L281.74,240.77 L282.36,242.05 L282.99,243.34 L283.61,244.62 L284.23,245.91 L284.86,247.19 L285.48,248.48 L286.11,249.76 L286.73,251.05 L287.35,252.33 L287.98,253.62 L288.60,254.90 L289.22,256.19 L289.85,257.47 L290.47,258.76 L291.09,260.04 L291.72,261.33 L292.34,262.61 L292.96,263.90 L293.59,265.18 L294.21,266.47 L294.84,267.75 L295.46,269.04 L296.08,270.32 L296.71,271.61 L297.33,272.89 L297.95,274.18 L298.58,275.46 L299.20,276.75" stroke="#777" stroke-width="0.85" stroke-dasharray="2.7,1.3"/>
<path d="M50.40,16.58 L51.02,16.55 L51.65,16.52 L52.27,16.49 L52.89,16.45 L53.52,16.42 L54.14,16.38 L54.76,16.35 L55.39,16.31 L56.01,16.27 L56.64,16.22 L57.26,16.18 L57.88,16.13 L58.51,16.09 L59.13,16.04 L59.75,15.99 L60.38,15.93 L61.00,15.88 L61.62,15.82 L62.25,15.76 L62.87,15.70 L63.49,15.63 L64.12,15.56 L64.74,15.49 L65.37,15.42 L65.99,15.34 L66.61,15.26 L67.24,15.18 L67.86,15.10 L68.48,15.01 L69.11,14.92 L69.73,14.82 L70.35,14.72 L70.98,14.62 L71.60,14.51 L72.22,14.40 L72.85,14.28 L73.47,14.16 L74.10,14.04 L74.72,13.91 L75.34,13.78 L75.97,13.64 L76.59,13.49 L77.21,13.34 L77.84,13.19 L78.46,13.03 L79.08,12.86 L79.71,12.69 L80.33,12.51 L80.95,12.32 L81.58,12.13 L82.20,11.93 L82.83,11.72 L83.45,11.51 L84.07,11.29 L84.70,11.06 L85.32,10.82 L85.94,10.58 L86.57,10.32 L87.19,10.06 L87.81,9.79 L88.44,9.51 L89.06,9.22 L89.68,8.92 L90.31,8.61 L90.93,8.29 L91.55,7.97 L92.18,7.63 L92.80,7.28 L93.43,6.92 L94.05,6.55 L94.67,6.16 L95.30,5.77 L95.92,5.36 L96.54,4.95 L97.17,4.52 L97.79,4.08 L98.41,3.63 L99.04,3.16 L99.66,2.69 L100.28,2.20 L100.91,1.70 L101.53,1.19 L102.16,0.66 L102.78,0.12 L103.40,-0.43 L104.03,-0.99 L104.65,-1.56 L105.27,-2.14 L105.90,-2.74 L106.52,-3.35 L107.14,-3.97 L107.77,-4.60 L108.39,-5.24 L109.01,-5.89 L109.64,-6.55 L110.26,-7.22 L110.89,-7.90 L111.51,-8.58 L112.13,-9.28 L112.76,-9.98 L113.38,-10.69 L114.00,-11.41 L114.63,-12.13 L115.25,-12.85 L115.87,-13.58 L116.50,-14.31 L117.12,-15.04 L117.74,-15.78 L118.37,-16.51 L118.99,-17.25 L119.62,-17.98 L120.24,-18.71 L120.86,-19.44 L121.49,-20.16 L122.11,-20.88 L122.73,-21.59 L123.36,-22.29 L123.98,-22.98 L124.60,-23.67 L125.23,-24.34 L125.85,-25.00 L126.47,-25.65 L127.10,-26.28 L127.72,-26.90 L128.34,-27.50 L128.97,-28.08 L129.59,-28.65 L130.22,-29.20 L130.84,-29.72 L131.46,-30.23 L132.09,-30.71 L132.71,-31.17 L133.33,-31.61 L133.96,-32.03 L134.58,-32.42 L135.20,-32.78 L135.83,-33.12 L136.45,-33.43 L137.07,-33.71 L137.70,-33.97 L138.32,-34.20 L138.95,-34.40 L139.57,-34.57 L140.19,-34.72 L140.82,-34.83 L141.44,-34.92 L142.06,-34.97 L142.69,-35.00 L143.31,-35.00 L143.93,-34.96 L144.56,-34.90 L145.18,-34.81 L145.80,-34.69 L146.43,-34.54 L147.05,-34.36 L147.68,-34.16 L148.30,-33.92 L148.92,-33.66 L149.55,-33.37 L150.17,-33.05 L150.79,-32.71 L151.42,-32.34 L152.04,-31.94 L152.66,-31.52 L153.29,-31.07 L153.91,-30.60 L154.53,-30.10 L155.16,-29.58 L155.78,-29.04 L156.41,-28.47 L157.03,-27.88 L157.65,-27.27 L158.28,-26.64 L158.90,-25.98 L159.52,-25.31 L160.15,-24.62 L160.77,-23.90 L161.39,-23.17 L162.02,-22.42 L162.64,-21.65 L163.26,-20.87 L163.89,-20.06 L164.51,-19.24 L165.13,-18.41 L165.76,-17.56 L166.38,-16.69 L167.01,-15.81 L167.63,-14.91 L168.25,-14.01 L168.88,-13.08 L169.50,-12.15 L170.12,-11.20 L170.75,-10.24 L171.37,-9.27 L171.99,-8.29 L172.62,-7.29 L173.24,-6.29 L173.86,-5.28 L174.49,-4.25 L175.11,-3.22 L175.74,-2.17 L176.36,-1.12 L176.98,-0.06 L177.61,1.01 L178.23,2.09 L178.85,3.17 L179.48,4.26 L180.10,5.36 L180.72,6.47 L181.35,7.58 L181.97,8.70 L182.59,9.83 L183.22,10.96 L183.84,12.10 L184.47,13.24 L185.09,14.39 L185.71,15.55 L186.34,16.71 L186.96,17.87 L187.58,19.04 L188.21,20.21 L188.83,21.39 L189.45,22.57 L190.08,23.76 L190.70,24.94 L191.32,26.14 L191.95,27.33 L192.57,28.53 L193.19,29.74 L193.82,30.94 L194.44,32.15 L195.07,33.37 L195.69,34.58 L196.31,35.80 L196.94,37.02 L197.56,38.24 L198.18,39.47 L198.81,40.70 L199.43,41.93 L200.05,43.16 L200.68,44.39 L201.30,45.63 L201.92,46.87 L202.55,48.11 L203.17,49.35 L203.80,50.59 L204.42,51.84 L205.04,53.09 L205.67,54.33 L206.29,55.58 L206.91,56.84 L207.54,58.09 L208.16,59.34 L208.78,60.60 L209.41,61.85 L210.03,63.11 L210.65,64.37 L211.28,65.63 L211.90,66.89 L212.53,68.15 L213.15,69.41 L213.77,70.68 L214.40,71.94 L215.02,73.21 L215.64,74.47 L216.27,75.74 L216.89,77.00 L217.51,78.27 L218.14,79.54 L218.76,80.81 L219.38,82.08 L220.01,83.35 L220.63,84.62 L221.26,85.89 L221.88,87.17 L222.50,88.44 L223.13,89.71 L223.75,90.99 L224.37,92.26 L225.00,93.54 L225.62,94.81 L226.24,96.09 L226.87,97.36 L227.49,98.64 L228.11,99.91 L228.74,101.19 L229.36,102.47 L229.98,103.75 L230.61,105.02 L231.23,106.30 L231.86,107.58 L232.48,108.86 L233.10,110.14 L233.73,111.42 L234.35,112.70 L234.97,113.98 L235.60,115.26 L236.22,116.54 L236.84,117.82 L237.47,119.10 L238.09,120.38 L238.71,121.66 L239.34,122.94 L239.96,124.22 L240.59,125.50 L241.21,126.78 L241.83,128.07 L242.46,129.35 L243.08,130.63 L243.70,131.91 L244.33,133.19 L244.95,134.48 L245.57,135.76 L246.20,137.04 L246.82,138.32 L247.44,139.61 L248.07,140.89 L248.69,142.17 L249.32,143.46 L249.94,144.74 L250.56,146.02 L251.19,147.30 L251.81,148.59 L252.43,149.87 L253.06,151.16 L253.68,152.44 L254.30,153.72 L254.93,155.01 L255.55,156.29 L256.17,157.57 L256.80,158.86 L257.42,160.14 L258.05,161.43 L258.67,162.71 L259.29,163.99 L259.92,165.28 L260.54,166.56 L261.16,167.85 L261.79,169.13 L262.41,170.42 L263.03,171.70 L263.66,172.98 L264.28,174.27 L264.90,175.55 L265.53,176.84 L266.15,178.12 L266.77,179.41 L267.40,180.69 L268.02,181.98 L268.65,183.26 L269.27,184.54 L269.89,185.83 L270.52,187.11 L271.14,188.40 L271.76,189.68 L272.39,190.97 L273.01,192.25 L273.63,193.54 L274.26,194.82 L274.88,196.11 L275.50,197.39 L276.13,198.68 L276.75,199.96 L277.38,201.25 L278.00,202.53 L278.62,203.82 L279.25,205.10 L279.87,206.39 L280.49,207.67 L281.12,208.96 L281.74,210.24 L282.36,211.53 L282.99,212.81 L283.61,214.10 L284.23,215.38 L284.86,216.67 L285.48,217.95 L286.11,219.24 L286.73,220.52 L287.35,221.81 L287.98,223.09 L288.60,224.38 L289.22,225.66 L289.85,226.95 L290.47,228.23 L291.09,229.52 L291.72,230.80 L292.34,232.09 L292.96,233.37 L293.59,234.66 L294.21,235.94 L294.84,237.23 L295.46,238.51 L296.08,239.80 L296.71,241.08 L297.33,242.37 L297.95,243.65 L298.58,244.94 L299.20,246.22" stroke="#777" stroke-width="0.85" stroke-dasharray="2.7,1.3"/>
<path d="M50.40,-13.94 L51.02,-13.97 L51.65,-14.00 L52.27,-14.04 L52.89,-14.07 L53.52,-14.11 L54.14,-14.14 L54.76,-14.18 L55.39,-14.22 L56.01,-14.26 L56.64,-14.30 L57.26,-14.35 L57.88,-14.39 L58.51,-14.44 L59.13,-14.49 L59.75,-14.54 L60.38,-14.59 L61.00,-14.65 L61.62,-14.71 L62.25,-14.77 L62.87,-14.83 L63.49,-14.89 L64.12,-14.96 L64.74,-15.03 L65.37,-15.11 L65.99,-15.18 L66.61,-15.26 L67.24,-15.34 L67.86,-15.43 L68.48,-15.52 L69.11,-15.61 L69.73,-15.70 L70.35,-15.80 L70.98,-15.91 L71.60,-16.01 L72.22,-16.13 L72.85,-16.24 L73.47,-16.36 L74.10,-16.49 L74.72,-16.61 L75.34,-16.75 L75.97,-16.89 L76.59,-17.03 L77.21,-17.18 L77.84,-17.34 L78.46,-17.50 L79.08,-17.66 L79.71,-17.84 L80.33,-18.02 L80.95,-18.20 L81.58,-18.39 L82.20,-18.59 L82.83,-18.80 L83.45,-19.01 L84.07,-19.24 L84.70,-19.47 L85.32,-19.70 L85.94,-19.95 L86.57,-20.20 L87.19,-20.46 L87.81,-20.73 L88.44,-21.01 L89.06,-21.30 L89.68,-21.60 L90.31,-21.91 L90.93,-22.23 L91.55,-22.56 L92.18,-22.90 L92.80,-23.25 L93.43,-23.61 L94.05,-23.98 L94.67,-24.36 L95.30,-24.76 L95.92,-25.16 L96.54,-25.58 L97.17,-26.01 L97.79,-26.45 L98.41,-26.90 L99.04,-27.36 L99.66,-27.84 L100.28,-28.33 L100.91,-28.83 L101.53,-29.34 L102.16,-29.86 L102.78,-30.40 L103.40,-30.95 L104.03,-31.51 L104.65,-32.08 L105.27,-32.67 L105.90,-33.27 L106.52,-33.87 L107.14,-34.49 L107.77,-35.12 L108.39,-35.76 L109.01,-36.41 L109.64,-37.07 L110.26,-37.74 L110.89,-38.42 L111.51,-39.11 L112.13,-39.80 L112.76,-40.51 L113.38,-41.22 L114.00,-41.93 L114.63,-42.65 L115.25,-43.38 L115.87,-44.10 L116.50,-44.84 L117.12,-45.57 L117.74,-46.30 L118.37,-47.04 L118.99,-47.77 L119.62,-48.51 L120.24,-49.24 L120.86,-49.96 L121.49,-50.69 L122.11,-51.40 L122.73,-52.11 L123.36,-52.81 L123.98,-53.51 L124.60,-54.19 L125.23,-54.86 L125.85,-55.52 L126.47,-56.17 L127.10,-56.80 L127.72,-57.42 L128.34,-58.02 L128.97,-58.61 L129.59,-59.17 L130.22,-59.72 L130.84,-60.25 L131.46,-60.75 L132.09,-61.24 L132.71,-61.70 L133.33,-62.14 L133.96,-62.55 L134.58,-62.94 L135.20,-63.31 L135.83,-63.64 L136.45,-63.96 L137.07,-64.24 L137.70,-64.50 L138.32,-64.73 L138.95,-64.93 L139.57,-65.10 L140.19,-65.24 L140.82,-65.36 L141.44,-65.44 L142.06,-65.50 L142.69,-65.52 L143.31,-65.52 L143.93,-65.49 L144.56,-65.43 L145.18,-65.34 L145.80,-65.22 L146.43,-65.07 L147.05,-64.89 L147.68,-64.68 L148.30,-64.45 L148.92,-64.19 L149.55,-63.90 L150.17,-63.58 L150.79,-63.24 L151.42,-62.86 L152.04,-62.47 L152.66,-62.05 L153.29,-61.60 L153.91,-61.13 L154.53,-60.63 L155.16,-60.11 L155.78,-59.56 L156.41,-59.00 L157.03,-58.41 L157.65,-57.80 L158.28,-57.16 L158.90,-56.51 L159.52,-55.84 L160.15,-55.14 L160.77,-54.43 L161.39,-53.70 L162.02,-52.95 L162.64,-52.18 L163.26,-51.39 L163.89,-50.59 L164.51,-49.77 L165.13,-48.93 L165.76,-48.08 L166.38,-47.22 L167.01,-46.33 L167.63,-45.44 L168.25,-44.53 L168.88,-43.61 L169.50,-42.67 L170.12,-41.73 L170.75,-40.77 L171.37,-39.80 L171.99,-38.81 L172.62,-37.82 L173.24,-36.81 L173.86,-35.80 L174.49,-34.78 L175.11,-33.74 L175.74,-32.70 L176.36,-31.65 L176.98,-30.59 L177.61,-29.52 L178.23,-28.44 L178.85,-27.35 L179.48,-26.26 L180.10,-25.16 L180.72,-24.06 L181.35,-22.94 L181.97,-21.82 L182.59,-20.70 L183.22,-19.56 L183.84,-18.43 L184.47,-17.28 L185.09,-16.13 L185.71,-14.98 L186.34,-13.82 L186.96,-12.66 L187.58,-11.49 L188.21,-10.31 L188.83,-9.14 L189.45,-7.96 L190.08,-6.77 L190.70,-5.58 L191.32,-4.39 L191.95,-3.19 L192.57,-1.99 L193.19,-0.79 L193.82,0.42 L194.44,1.63 L195.07,2.84 L195.69,4.06 L196.31,5.28 L196.94,6.50 L197.56,7.72 L198.18,8.94 L198.81,10.17 L199.43,11.40 L200.05,12.64 L200.68,13.87 L201.30,15.11 L201.92,16.34 L202.55,17.58 L203.17,18.83 L203.80,20.07 L204.42,21.31 L205.04,22.56 L205.67,23.81 L206.29,25.06 L206.91,26.31 L207.54,27.56 L208.16,28.82 L208.78,30.07 L209.41,31.33 L210.03,32.59 L210.65,33.84 L211.28,35.10 L211.90,36.36 L212.53,37.63 L213.15,38.89 L213.77,40.15 L214.40,41.42 L215.02,42.68 L215.64,43.95 L216.27,45.21 L216.89,46.48 L217.51,47.75 L218.14,49.02 L218.76,50.29 L219.38,51.56 L220.01,52.83 L220.63,54.10 L221.26,55.37 L221.88,56.64 L222.50,57.91 L223.13,59.19 L223.75,60.46 L224.37,61.74 L225.00,63.01 L225.62,64.29 L226.24,65.56 L226.87,66.84 L227.49,68.11 L228.11,69.39 L228.74,70.67 L229.36,71.94 L229.98,73.22 L230.61,74.50 L231.23,75.78 L231.86,77.06 L232.48,78.33 L233.10,79.61 L233.73,80.89 L234.35,82.17 L234.97,83.45 L235.60,84.73 L236.22,86.01 L236.84,87.29 L237.47,88.57 L238.09,89.85 L238.71,91.13 L239.34,92.41 L239.96,93.70 L240.59,94.98 L241.21,96.26 L241.83,97.54 L242.46,98.82 L243.08,100.10 L243.70,101.39 L244.33,102.67 L244.95,103.95 L245.57,105.23 L246.20,106.52 L246.82,107.80 L247.44,109.08 L248.07,110.36 L248.69,111.65 L249.32,112.93 L249.94,114.21 L250.56,115.50 L251.19,116.78 L251.81,118.06 L252.43,119.35 L253.06,120.63 L253.68,121.91 L254.30,123.20 L254.93,124.48 L255.55,125.77 L256.17,127.05 L256.80,128.33 L257.42,129.62 L258.05,130.90 L258.67,132.18 L259.29,133.47 L259.92,134.75 L260.54,136.04 L261.16,137.32 L261.79,138.61 L262.41,139.89 L263.03,141.17 L263.66,142.46 L264.28,143.74 L264.90,145.03 L265.53,146.31 L266.15,147.60 L266.77,148.88 L267.40,150.17 L268.02,151.45 L268.65,152.74 L269.27,154.02 L269.89,155.30 L270.52,156.59 L271.14,157.87 L271.76,159.16 L272.39,160.44 L273.01,161.73 L273.63,163.01 L274.26,164.30 L274.88,165.58 L275.50,166.87 L276.13,168.15 L276.75,169.44 L277.38,170.72 L278.00,172.01 L278.62,173.29 L279.25,174.58 L279.87,175.86 L280.49,177.15 L281.12,178.43 L281.74,179.72 L282.36,181.00 L282.99,182.29 L283.61,183.57 L284.23,184.86 L284.86,186.14 L285.48,187.43 L286.11,188.71 L286.73,190.00 L287.35,191.28 L287.98,192.57 L288.60,193.85 L289.22,195.14 L289.85,196.42 L290.47,197.71 L291.09,198.99 L291.72,200.28 L292.34,201.56 L292.96,202.85 L293.59,204.13 L294.21,205.42 L294.84,206.70 L295.46,207.99 L296.08,209.27 L296.71,210.56 L297.33,211.84 L297.95,213.13 L298.58,214.41 L299.20,215.70" stroke="#777" stroke-width="0.85" stroke-dasharray="2.7,1.3"/>
<path d="M50.40,-44.47 L51.02,-44.50 L51.65,-44.53 L52.27,-44.56 L52.89,-44.60 L53.52,-44.63 L54.14,-44.67 L54.76,-44.70 L55.39,-44.74 L56.01,-44.78 L56.64,-44.83 L57.26,-44.87 L57.88,-44.92 L58.51,-44.96 L59.13,-45.01 L59.75,-45.06 L60.38,-45.12 L61.00,-45.17 L61.62,-45.23 L62.25,-45.29 L62.87,-45.35 L63.49,-45.42 L64.12,-45.49 L64.74,-45.56 L65.37,-45.63 L65.99,-45.71 L66.61,-45.79 L67.24,-45.87 L67.86,-45.95 L68.48,-46.04 L69.11,-46.13 L69.73,-46.23 L70.35,-46.33 L70.98,-46.43 L71.60,-46.54 L72.22,-46.65 L72.85,-46.77 L73.47,-46.89 L74.10,-47.01 L74.72,-47.14 L75.34,-47.27 L75.97,-47.41 L76.59,-47.56 L77.21,-47.71 L77.84,-47.86 L78.46,-48.02 L79.08,-48.19 L79.71,-48.36 L80.33,-48.54 L80.95,-48.73 L81.58,-48.92 L82.20,-49.12 L82.83,-49.33 L83.45,-49.54 L84.07,-49.76 L84.70,-49.99 L85.32,-50.23 L85.94,-50.47 L86.57,-50.73 L87.19,-50.99 L87.81,-51.26 L88.44,-51.54 L89.06,-51.83 L89.68,-52.13 L90.31,-52.44 L90.93,-52.76 L91.55,-53.08 L92.18,-53.42 L92.80,-53.77 L93.43,-54.13 L94.05,-54.50 L94.67,-54.89 L95.30,-55.28 L95.92,-55.69 L96.54,-56.10 L97.17,-56.53 L97.79,-56.97 L98.41,-57.42 L99.04,-57.89 L99.66,-58.36 L100.28,-58.85 L100.91,-59.35 L101.53,-59.86 L102.16,-60.39 L102.78,-60.93 L103.40,-61.48 L104.03,-62.04 L104.65,-62.61 L105.27,-63.19 L105.90,-63.79 L106.52,-64.40 L107.14,-65.02 L107.77,-65.65 L108.39,-66.29 L109.01,-66.94 L109.64,-67.60 L110.26,-68.27 L110.89,-68.95 L111.51,-69.63 L112.13,-70.33 L112.76,-71.03 L113.38,-71.74 L114.00,-72.46 L114.63,-73.18 L115.25,-73.90 L115.87,-74.63 L116.50,-75.36 L117.12,-76.09 L117.74,-76.83 L118.37,-77.56 L118.99,-78.30 L119.62,-79.03 L120.24,-79.76 L120.86,-80.49 L121.49,-81.21 L122.11,-81.93 L122.73,-82.64 L123.36,-83.34 L123.98,-84.03 L124.60,-84.72 L125.23,-85.39 L125.85,-86.05 L126.47,-86.70 L127.10,-87.33 L127.72,-87.95 L128.34,-88.55 L128.97,-89.13 L129.59,-89.70 L130.22,-90.25 L130.84,-90.77 L131.46,-91.28 L132.09,-91.76 L132.71,-92.22 L133.33,-92.66 L133.96,-93.08 L134.58,-93.47 L135.20,-93.83 L135.83,-94.17 L136.45,-94.48 L137.07,-94.76 L137.70,-95.02 L138.32,-95.25 L138.95,-95.45 L139.57,-95.62 L140.19,-95.77 L140.82,-95.88 L141.44,-95.97 L142.06,-96.02 L142.69,-96.05 L143.31,-96.05 L143.93,-96.01 L144.56,-95.95 L145.18,-95.86 L145.80,-95.74 L146.43,-95.59 L147.05,-95.41 L147.68,-95.21 L148.30,-94.97 L148.92,-94.71 L149.55,-94.42 L150.17,-94.10 L150.79,-93.76 L151.42,-93.39 L152.04,-92.99 L152.66,-92.57 L153.29,-92.12 L153.91,-91.65 L154.53,-91.15 L155.16,-90.63 L155.78,-90.09 L156.41,-89.52 L157.03,-88.93 L157.65,-88.32 L158.28,-87.69 L158.90,-87.03 L159.52,-86.36 L160.15,-85.67 L160.77,-84.95 L161.39,-84.22 L162.02,-83.47 L162.64,-82.70 L163.26,-81.92 L163.89,-81.11 L164.51,-80.29 L165.13,-79.46 L165.76,-78.61 L166.38,-77.74 L167.01,-76.86 L167.63,-75.96 L168.25,-75.06 L168.88,-74.13 L169.50,-73.20 L170.12,-72.25 L170.75,-71.29 L171.37,-70.32 L171.99,-69.34 L172.62,-68.34 L173.24,-67.34 L173.86,-66.33 L174.49,-65.30 L175.11,-64.27 L175.74,-63.22 L176.36,-62.17 L176.98,-61.11 L177.61,-60.04 L178.23,-58.96 L178.85,-57.88 L179.48,-56.79 L180.10,-55.69 L180.72,-54.58 L181.35,-53.47 L181.97,-52.35 L182.59,-51.22 L183.22,-50.09 L183.84,-48.95 L184.47,-47.81 L185.09,-46.66 L185.71,-45.50 L186.34,-44.34 L186.96,-43.18 L187.58,-42.01 L188.21,-40.84 L188.83,-39.66 L189.45,-38.48 L190.08,-37.29 L190.70,-36.11 L191.32,-34.91 L191.95,-33.72 L192.57,-32.52 L193.19,-31.31 L193.82,-30.11 L194.44,-28.90 L195.07,-27.68 L195.69,-26.47 L196.31,-25.25 L196.94,-24.03 L197.56,-22.81 L198.18,-21.58 L198.81,-20.35 L199.43,-19.12 L200.05,-17.89 L200.68,-16.66 L201.30,-15.42 L201.92,-14.18 L202.55,-12.94 L203.17,-11.70 L203.80,-10.46 L204.42,-9.21 L205.04,-7.96 L205.67,-6.72 L206.29,-5.47 L206.91,-4.21 L207.54,-2.96 L208.16,-1.71 L208.78,-0.45 L209.41,0.80 L210.03,2.06 L210.65,3.32 L211.28,4.58 L211.90,5.84 L212.53,7.10 L213.15,8.36 L213.77,9.63 L214.40,10.89 L215.02,12.16 L215.64,13.42 L216.27,14.69 L216.89,15.95 L217.51,17.22 L218.14,18.49 L218.76,19.76 L219.38,21.03 L220.01,22.30 L220.63,23.57 L221.26,24.84 L221.88,26.12 L222.50,27.39 L223.13,28.66 L223.75,29.94 L224.37,31.21 L225.00,32.49 L225.62,33.76 L226.24,35.04 L226.87,36.31 L227.49,37.59 L228.11,38.86 L228.74,40.14 L229.36,41.42 L229.98,42.70 L230.61,43.97 L231.23,45.25 L231.86,46.53 L232.48,47.81 L233.10,49.09 L233.73,50.37 L234.35,51.65 L234.97,52.93 L235.60,54.21 L236.22,55.49 L236.84,56.77 L237.47,58.05 L238.09,59.33 L238.71,60.61 L239.34,61.89 L239.96,63.17 L240.59,64.45 L241.21,65.73 L241.83,67.02 L242.46,68.30 L243.08,69.58 L243.70,70.86 L244.33,72.14 L244.95,73.43 L245.57,74.71 L246.20,75.99 L246.82,77.27 L247.44,78.56 L248.07,79.84 L248.69,81.12 L249.32,82.41 L249.94,83.69 L250.56,84.97 L251.19,86.25 L251.81,87.54 L252.43,88.82 L253.06,90.11 L253.68,91.39 L254.30,92.67 L254.93,93.96 L255.55,95.24 L256.17,96.52 L256.80,97.81 L257.42,99.09 L258.05,100.38 L258.67,101.66 L259.29,102.94 L259.92,104.23 L260.54,105.51 L261.16,106.80 L261.79,108.08 L262.41,109.37 L263.03,110.65 L263.66,111.93 L264.28,113.22 L264.90,114.50 L265.53,115.79 L266.15,117.07 L266.77,118.36 L267.40,119.64 L268.02,120.93 L268.65,122.21 L269.27,123.49 L269.89,124.78 L270.52,126.06 L271.14,127.35 L271.76,128.63 L272.39,129.92 L273.01,131.20 L273.63,132.49 L274.26,133.77 L274.88,135.06 L275.50,136.34 L276.13,137.63 L276.75,138.91 L277.38,140.20 L278.00,141.48 L278.62,142.77 L279.25,144.05 L279.87,145.34 L280.49,146.62 L281.12,147.91 L281.74,149.19 L282.36,150.48 L282.99,151.76 L283.61,153.05 L284.23,154.33 L284.86,155.62 L285.48,156.90 L286.11,158.19 L286.73,159.47 L287.35,160.76 L287.98,162.04 L288.60,163.33 L289.22,164.61 L289.85,165.90 L290.47,167.18 L291.09,168.47 L291.72,169.75 L292.34,171.04 L292.96,172.32 L293.59,173.61 L294.21,174.89 L294.84,176.18 L295.46,177.46 L296.08,178.75 L296.71,180.03 L297.33,181.32 L297.95,182.60 L298.58,183.89 L299.20,185.17" stroke="#777" stroke-width="0.85" stroke-dasharray="2.7,1.3"/>
<path d="M50.40,47.63 L51.02,47.57 L51.65,47.51 L52.27,47.44 L52.89,47.37 L53.52,47.30 L54.14,47.23 L54.76,47.15 L55.39,47.07 L56.01,46.99 L56.64,46.90 L57.26,46.81 L57.88,46.72 L58.51,46.62 L59.13,46.52 L59.75,46.42 L60.38,46.31 L61.00,46.20 L61.62,46.09 L62.25,45.97 L62.87,45.85 L63.49,45.72 L64.12,45.59 L64.74,45.45 L65.37,45.31 L65.99,45.17 L66.61,45.02 L67.24,44.86 L67.86,44.70 L68.48,44.54 L69.11,44.37 L69.73,44.19 L70.35,44.01 L70.98,43.82 L71.60,43.63 L72.22,43.43 L72.85,43.22 L73.47,43.01 L74.10,42.80 L74.72,42.57 L75.34,42.35 L75.97,42.11 L76.59,41.87 L77.21,41.62 L77.84,41.37 L78.46,41.11 L79.08,40.85 L79.71,40.58 L80.33,40.30 L80.95,40.02 L81.58,39.74 L82.20,39.45 L82.83,39.15 L83.45,38.85 L84.07,38.55 L84.70,38.24 L85.32,37.93 L85.94,37.62 L86.57,37.31 L87.19,36.99 L87.81,36.68 L88.44,36.36 L89.06,36.05 L89.68,35.73 L90.31,35.42 L90.93,35.12 L91.55,34.82 L92.18,34.53 L92.80,34.24 L93.43,33.97 L94.05,33.71 L94.67,33.46 L95.30,33.22 L95.92,33.00 L96.54,32.80 L97.17,32.63 L97.79,32.47 L98.41,32.34 L99.04,32.24 L99.66,32.18 L100.28,32.15 L100.91,32.15 L101.53,32.20 L102.16,32.29 L102.78,32.43 L103.40,32.62 L104.03,32.87 L104.65,33.18 L105.27,33.55 L105.90,33.99 L106.52,34.50 L107.14,35.09 L107.77,35.76 L108.39,36.51 L109.01,37.36 L109.64,38.31 L110.26,39.35 L110.89,40.50 L111.51,41.77 L112.13,43.15 L112.76,44.65 L113.38,46.28 L114.00,48.05 L114.63,49.95 L115.25,52.00 L115.87,54.19 L116.50,56.54 L117.12,59.04 L117.74,61.71 L118.37,64.55 L118.99,67.57 L119.62,70.76 L120.24,74.13 L120.86,77.69 L121.49,81.45 L122.11,85.39 L122.73,89.54 L123.36,93.89 L123.98,98.44 L124.60,103.21 L125.23,108.18 L125.85,113.37 L126.47,118.78 L127.10,124.40 L127.72,130.25 L128.34,136.32 L128.97,142.61 L129.59,149.12 L130.22,155.86 L130.84,162.83 L131.46,170.02 L132.09,177.43 L132.71,185.07 L133.33,192.94 L133.96,201.02 L134.58,209.34 L135.20,217.87 L135.83,226.62 L136.45,235.59 L137.07,244.77 L137.70,254.17 L138.32,263.78 L138.95,273.60" stroke="#000" stroke-width="1.1"/>
<path d="M92.40,55.01 L92.65,54.84 L92.89,54.66 L93.14,54.49 L93.38,54.31 L93.63,54.13 L93.87,53.95 L94.12,53.77 L94.36,53.59 L94.61,53.40 L94.85,53.22 L95.10,53.03 L95.34,52.84 L95.59,52.65 L95.83,52.46 L96.08,52.27 L96.32,52.08 L96.57,51.88 L96.81,51.69 L97.06,51.49 L97.30,51.30 L97.55,51.10 L97.79,50.90 L98.04,50.70 L98.28,50.50 L98.53,50.30 L98.77,50.10 L99.02,49.90 L99.26,49.70 L99.51,49.49 L99.75,49.29 L100.00,49.09 L100.24,48.89 L100.49,48.68 L100.73,48.48 L100.98,48.28 L101.22,48.08 L101.47,47.87 L101.71,47.67 L101.96,47.47 L102.20,47.27 L102.45,47.07 L102.69,46.87 L102.94,46.67 L103.18,46.48 L103.43,46.28 L103.67,46.09 L103.92,45.89 L104.16,45.70 L104.41,45.51 L104.65,45.33 L104.90,45.14 L105.14,44.96 L105.39,44.78 L105.63,44.60 L105.88,44.43 L106.12,44.26 L106.37,44.09 L106.61,43.93 L106.86,43.77 L107.10,43.61 L107.35,43.46 L107.59,43.31 L107.84,43.17 L108.08,43.03 L108.33,42.89 L108.57,42.77 L108.82,42.64 L109.06,42.53 L109.31,42.42 L109.55,42.32 L109.80,42.22 L110.04,42.13 L110.29,42.05 L110.53,41.98 L110.78,41.91 L111.02,41.85 L111.27,41.81 L111.51,41.77 L111.76,41.74 L112.00,41.72 L112.25,41.71 L112.49,41.72 L112.74,41.73 L112.98,41.76 L113.23,41.80 L113.47,41.85 L113.72,41.91 L113.96,41.99 L114.21,42.08 L114.45,42.19 L114.70,42.31 L114.94,42.45 L115.19,42.60 L115.43,42.78 L115.68,42.96 L115.92,43.17 L116.17,43.40 L116.41,43.64 L116.66,43.91 L116.90,44.19 L117.15,44.50 L117.39,44.83 L117.64,45.18 L117.88,45.55 L118.13,45.95 L118.37,46.37 L118.62,46.82 L118.86,47.30 L119.11,47.80 L119.35,48.33 L119.60,48.88 L119.84,49.47 L120.09,50.09 L120.33,50.74 L120.58,51.42 L120.82,52.13 L121.07,52.88 L121.31,53.66 L121.56,54.48 L121.80,55.33 L122.05,56.22 L122.29,57.15 L122.54,58.12 L122.78,59.13 L123.03,60.18 L123.27,61.28 L123.52,62.41 L123.76,63.60 L124.01,64.82 L124.25,66.10 L124.50,67.42 L124.74,68.79 L124.99,70.21 L125.23,71.69 L125.48,73.21 L125.72,74.79 L125.97,76.43 L126.21,78.12 L126.46,79.87 L126.70,81.67 L126.95,83.54 L127.19,85.47 L127.44,87.46 L127.68,89.52 L127.93,91.64 L128.17,93.82 L128.42,96.08 L128.66,98.40 L128.91,100.79 L129.15,103.26 L129.40,105.80 L129.64,108.41 L129.89,111.10 L130.13,113.87 L130.38,116.71 L130.62,119.64 L130.87,122.65 L131.11,125.74 L131.36,128.91 L131.60,132.18 L131.85,135.52 L132.09,138.96 L132.34,142.49 L132.58,146.11 L132.83,149.83 L133.07,153.64 L133.32,157.54 L133.56,161.55 L133.81,165.65 L134.05,169.85 L134.30,174.16 L134.54,178.57 L134.79,183.09 L135.03,187.71 L135.28,192.44 L135.52,197.28 L135.77,202.23 L136.01,207.30 L136.26,212.48 L136.50,217.77 L136.75,223.18 L136.99,228.71 L137.24,234.36 L137.48,240.13 L137.73,246.03 L137.97,252.05 L138.22,258.19 L138.46,264.46 L138.71,270.86 L138.95,277.39" stroke="#000" stroke-width="1.1" stroke-dasharray="3.3,1.9"/>
</g>
<path d="M92.40,31.85 L95.75,38.55 L89.05,38.55Z" fill="#ff0000"/>
<path d="M103.20,30.65 L106.55,37.35 L99.85,37.35Z" fill="#ff0000"/>
<path d="M109.30,34.75 L112.65,41.45 L105.95,41.45Z" fill="#ff0000"/>
<path d="M113.70,46.75 L117.05,53.45 L110.35,53.45Z" fill="#ff0000"/>
<path d="M117.20,55.15 L120.55,61.85 L113.85,61.85Z" fill="#ff0000"/>
<path d="M119.90,62.65 L123.25,69.35 L116.55,69.35Z" fill="#ff0000"/>
<path d="M122.30,83.65 L125.65,90.35 L118.95,90.35Z" fill="#ff0000"/>
<path d="M89.50,52.30 L95.30,58.10 M95.30,52.30 L89.50,58.10" stroke="#000" stroke-width="1.3" fill="none"/>
<path d="M100.00,42.60 L105.80,48.40 M105.80,42.60 L100.00,48.40" stroke="#000" stroke-width="1.3" fill="none"/>
<path d="M105.90,41.50 L111.70,47.30 M111.70,41.50 L105.90,47.30" stroke="#000" stroke-width="1.3" fill="none"/>
<path d="M111.30,42.10 L117.10,47.90 M117.10,42.10 L111.30,47.90" stroke="#000" stroke-width="1.3" fill="none"/>
<path d="M117.40,45.70 L123.20,51.50 M123.20,45.70 L117.40,51.50" stroke="#000" stroke-width="1.3" fill="none"/>
<path d="M122.10,63.10 L127.90,68.90 M127.90,63.10 L122.10,68.90" stroke="#000" stroke-width="1.3" fill="none"/>
<path d="M119.10,68.90 L124.90,74.70 M124.90,68.90 L119.10,74.70" stroke="#000" stroke-width="1.3" fill="none"/>
<path d="M123.60,75.10 L129.40,80.90 M129.40,75.10 L123.60,80.90" stroke="#000" stroke-width="1.3" fill="none"/>
<g transform="translate(274.8,123.3) rotate(60)" fill="#6e6e6e" font-size="6.2"><text style="stroke:#6e6e6e;stroke-width:0.12px" x="-14.8" y="2.2" textLength="29" lengthAdjust="spacingAndGlyphs">N<tspan font-size="4.4" dy="1.2">LT</tspan><tspan dy="-1.2"> = 10</tspan><tspan font-size="4.4" dy="-2.4">8</tspan></text></g>
<g transform="translate(264.1,131.8) rotate(60)" fill="#6e6e6e" font-size="6.2"><text style="stroke:#6e6e6e;stroke-width:0.12px" x="-14.8" y="2.2" textLength="29" lengthAdjust="spacingAndGlyphs">N<tspan font-size="4.4" dy="1.2">LT</tspan><tspan dy="-1.2"> = 10</tspan><tspan font-size="4.4" dy="-2.4">7</tspan></text></g>
<g transform="translate(253.4,140.3) rotate(60)" fill="#6e6e6e" font-size="6.2"><text style="stroke:#6e6e6e;stroke-width:0.12px" x="-14.8" y="2.2" textLength="29" lengthAdjust="spacingAndGlyphs">N<tspan font-size="4.4" dy="1.2">LT</tspan><tspan dy="-1.2"> = 10</tspan><tspan font-size="4.4" dy="-2.4">6</tspan></text></g>
<g transform="translate(242.70000000000002,148.8) rotate(60)" fill="#6e6e6e" font-size="6.2"><text style="stroke:#6e6e6e;stroke-width:0.12px" x="-14.8" y="2.2" textLength="29" lengthAdjust="spacingAndGlyphs">N<tspan font-size="4.4" dy="1.2">LT</tspan><tspan dy="-1.2"> = 10</tspan><tspan font-size="4.4" dy="-2.4">5</tspan></text></g>
<g transform="translate(232.0,157.3) rotate(60)" fill="#6e6e6e" font-size="6.2"><text style="stroke:#6e6e6e;stroke-width:0.12px" x="-14.8" y="2.2" textLength="29" lengthAdjust="spacingAndGlyphs">N<tspan font-size="4.4" dy="1.2">LT</tspan><tspan dy="-1.2"> = 10</tspan><tspan font-size="4.4" dy="-2.4">4</tspan></text></g>
<g transform="translate(221.3,165.8) rotate(60)" fill="#6e6e6e" font-size="6.2"><text style="stroke:#6e6e6e;stroke-width:0.12px" x="-14.8" y="2.2" textLength="29" lengthAdjust="spacingAndGlyphs">N<tspan font-size="4.4" dy="1.2">LT</tspan><tspan dy="-1.2"> = 10</tspan><tspan font-size="4.4" dy="-2.4">3</tspan></text></g>
<g transform="translate(210.60000000000002,174.3) rotate(60)" fill="#6e6e6e" font-size="6.2"><text style="stroke:#6e6e6e;stroke-width:0.12px" x="-14.8" y="2.2" textLength="29" lengthAdjust="spacingAndGlyphs">N<tspan font-size="4.4" dy="1.2">LT</tspan><tspan dy="-1.2"> = 10</tspan><tspan font-size="4.4" dy="-2.4">2</tspan></text></g>
<g transform="translate(199.90000000000003,182.8) rotate(60)" fill="#6e6e6e" font-size="6.2"><text style="stroke:#6e6e6e;stroke-width:0.12px" x="-14.8" y="2.2" textLength="29" lengthAdjust="spacingAndGlyphs">N<tspan font-size="4.4" dy="1.2">LT</tspan><tspan dy="-1.2"> = 10</tspan><tspan font-size="4.4" dy="-2.4">1</tspan></text></g>
<rect x="50.4" y="20.4" width="248.80" height="244.20" fill="none" stroke="#000" stroke-width="0.9"/>
<path d="M50.40,264.60 l0,3.8 M85.94,264.60 l0,3.8 M121.49,264.60 l0,3.8 M157.03,264.60 l0,3.8 M192.57,264.60 l0,3.8 M228.11,264.60 l0,3.8 M263.66,264.60 l0,3.8 M299.20,264.60 l0,3.8 M50.40,264.60 l-3.8,0 M50.40,234.08 l-3.8,0 M50.40,203.55 l-3.8,0 M50.40,173.03 l-3.8,0 M50.40,142.50 l-3.8,0 M50.40,111.98 l-3.8,0 M50.40,81.45 l-3.8,0 M50.40,50.93 l-3.8,0 M50.40,20.40 l-3.8,0" stroke="#000" stroke-width="0.88"/>
<path d="M61.10,264.60 l0,2.2 M67.36,264.60 l0,2.2 M71.80,264.60 l0,2.2 M75.24,264.60 l0,2.2 M78.06,264.60 l0,2.2 M80.44,264.60 l0,2.2 M82.50,264.60 l0,2.2 M84.32,264.60 l0,2.2 M96.64,264.60 l0,2.2 M102.90,264.60 l0,2.2 M107.34,264.60 l0,2.2 M110.79,264.60 l0,2.2 M113.60,264.60 l0,2.2 M115.98,264.60 l0,2.2 M118.04,264.60 l0,2.2 M119.86,264.60 l0,2.2 M132.19,264.60 l0,2.2 M138.44,264.60 l0,2.2 M142.88,264.60 l0,2.2 M146.33,264.60 l0,2.2 M149.14,264.60 l0,2.2 M151.52,264.60 l0,2.2 M153.58,264.60 l0,2.2 M155.40,264.60 l0,2.2 M167.73,264.60 l0,2.2 M173.99,264.60 l0,2.2 M178.43,264.60 l0,2.2 M181.87,264.60 l0,2.2 M184.69,264.60 l0,2.2 M187.07,264.60 l0,2.2 M189.13,264.60 l0,2.2 M190.95,264.60 l0,2.2 M203.27,264.60 l0,2.2 M209.53,264.60 l0,2.2 M213.97,264.60 l0,2.2 M217.41,264.60 l0,2.2 M220.23,264.60 l0,2.2 M222.61,264.60 l0,2.2 M224.67,264.60 l0,2.2 M226.49,264.60 l0,2.2 M238.81,264.60 l0,2.2 M245.07,264.60 l0,2.2 M249.51,264.60 l0,2.2 M252.96,264.60 l0,2.2 M255.77,264.60 l0,2.2 M258.15,264.60 l0,2.2 M260.21,264.60 l0,2.2 M262.03,264.60 l0,2.2 M274.36,264.60 l0,2.2 M280.62,264.60 l0,2.2 M285.06,264.60 l0,2.2 M288.50,264.60 l0,2.2 M291.31,264.60 l0,2.2 M293.69,264.60 l0,2.2 M295.76,264.60 l0,2.2 M297.57,264.60 l0,2.2 M50.40,255.41 l-2.2,0 M50.40,250.04 l-2.2,0 M50.40,246.22 l-2.2,0 M50.40,243.26 l-2.2,0 M50.40,240.85 l-2.2,0 M50.40,238.80 l-2.2,0 M50.40,237.03 l-2.2,0 M50.40,235.47 l-2.2,0 M50.40,224.89 l-2.2,0 M50.40,219.51 l-2.2,0 M50.40,215.70 l-2.2,0 M50.40,212.74 l-2.2,0 M50.40,210.32 l-2.2,0 M50.40,208.28 l-2.2,0 M50.40,206.51 l-2.2,0 M50.40,204.95 l-2.2,0 M50.40,194.36 l-2.2,0 M50.40,188.99 l-2.2,0 M50.40,185.17 l-2.2,0 M50.40,182.21 l-2.2,0 M50.40,179.80 l-2.2,0 M50.40,177.75 l-2.2,0 M50.40,175.98 l-2.2,0 M50.40,174.42 l-2.2,0 M50.40,163.84 l-2.2,0 M50.40,158.46 l-2.2,0 M50.40,154.65 l-2.2,0 M50.40,151.69 l-2.2,0 M50.40,149.27 l-2.2,0 M50.40,147.23 l-2.2,0 M50.40,145.46 l-2.2,0 M50.40,143.90 l-2.2,0 M50.40,133.31 l-2.2,0 M50.40,127.94 l-2.2,0 M50.40,124.12 l-2.2,0 M50.40,121.16 l-2.2,0 M50.40,118.75 l-2.2,0 M50.40,116.70 l-2.2,0 M50.40,114.93 l-2.2,0 M50.40,113.37 l-2.2,0 M50.40,102.79 l-2.2,0 M50.40,97.41 l-2.2,0 M50.40,93.60 l-2.2,0 M50.40,90.64 l-2.2,0 M50.40,88.22 l-2.2,0 M50.40,86.18 l-2.2,0 M50.40,84.41 l-2.2,0 M50.40,82.85 l-2.2,0 M50.40,72.26 l-2.2,0 M50.40,66.89 l-2.2,0 M50.40,63.07 l-2.2,0 M50.40,60.11 l-2.2,0 M50.40,57.70 l-2.2,0 M50.40,55.65 l-2.2,0 M50.40,53.88 l-2.2,0 M50.40,52.32 l-2.2,0 M50.40,41.74 l-2.2,0 M50.40,36.36 l-2.2,0 M50.40,32.55 l-2.2,0 M50.40,29.59 l-2.2,0 M50.40,27.17 l-2.2,0 M50.40,25.13 l-2.2,0 M50.40,23.36 l-2.2,0 M50.40,21.80 l-2.2,0" stroke="#000" stroke-width="0.66"/>
<text transform="translate(38.26,279.79) scale(1.0516,1)" font-size="11.16" fill="#000" >10</text>
<text transform="translate(57.1,275.82) scale(1.1037,1)" font-size="8.05" fill="#000" >6</text>
<rect x="52.35" y="273.10" width="4.3" height="0.85" fill="#000"/>
<text transform="translate(73.8,279.79) scale(1.0516,1)" font-size="11.16" fill="#000" >10</text>
<text transform="translate(92.75,275.82) scale(1.0586,1)" font-size="8.17" fill="#000" >5</text>
<rect x="87.89" y="273.10" width="4.3" height="0.85" fill="#000"/>
<text transform="translate(109.34,279.79) scale(1.0516,1)" font-size="11.16" fill="#000" >10</text>
<text transform="translate(128.45,275.9) scale(0.9821,1)" font-size="8.29" fill="#000" >4</text>
<rect x="123.44" y="273.10" width="4.3" height="0.85" fill="#000"/>
<text transform="translate(144.88,279.79) scale(1.0516,1)" font-size="11.16" fill="#000" >10</text>
<text transform="translate(163.85,275.82) scale(1.0741,1)" font-size="8.05" fill="#000" >3</text>
<rect x="158.98" y="273.10" width="4.3" height="0.85" fill="#000"/>
<text transform="translate(180.43,279.79) scale(1.0516,1)" font-size="11.16" fill="#000" >10</text>
<text transform="translate(199.27,275.9) scale(1.1025,1)" font-size="8.16" fill="#000" >2</text>
<rect x="194.52" y="273.10" width="4.3" height="0.85" fill="#000"/>
<text transform="translate(216.17,279.79) scale(1.0516,1)" font-size="11.16" fill="#000" >10</text>
<text transform="translate(234.81,275.9) scale(1.0358,1)" font-size="8.29" fill="#000" >1</text>
<rect x="230.26" y="273.10" width="4.3" height="0.85" fill="#000"/>
<text transform="translate(254.16,279.79) scale(1.0516,1)" font-size="11.16" fill="#000" >10</text>
<text transform="translate(267.82,275.82) scale(1.0654,1)" font-size="8.05" fill="#000" >0</text>
<text transform="translate(289.91,279.79) scale(1.0516,1)" font-size="11.16" fill="#000" >10</text>
<text transform="translate(303.25,275.9) scale(1.0358,1)" font-size="8.29" fill="#000" >1</text>
<text transform="translate(20.44,268.99) scale(1.0067,1)" font-size="11.16" fill="#000" >10</text>
<text transform="translate(38.95,265.1) scale(1.0358,1)" font-size="8.29" fill="#000" >1</text>
<rect x="34.40" y="262.30" width="4.3" height="0.85" fill="#000"/>
<text transform="translate(25.34,238.47) scale(1.0067,1)" font-size="11.16" fill="#000" >10</text>
<text transform="translate(38.86,234.5) scale(1.0654,1)" font-size="8.05" fill="#000" >0</text>
<text transform="translate(25.74,207.94) scale(1.0067,1)" font-size="11.16" fill="#000" >10</text>
<text transform="translate(38.95,204.05) scale(1.0358,1)" font-size="8.29" fill="#000" >1</text>
<text transform="translate(25.34,177.42) scale(1.0067,1)" font-size="11.16" fill="#000" >10</text>
<text transform="translate(38.75,173.53) scale(1.1025,1)" font-size="8.16" fill="#000" >2</text>
<text transform="translate(25.34,146.89) scale(1.0067,1)" font-size="11.16" fill="#000" >10</text>
<text transform="translate(38.87,142.92) scale(1.0741,1)" font-size="8.05" fill="#000" >3</text>
<text transform="translate(25.34,116.37) scale(1.0067,1)" font-size="11.16" fill="#000" >10</text>
<text transform="translate(39.01,112.48) scale(0.9821,1)" font-size="8.29" fill="#000" >4</text>
<text transform="translate(25.34,85.84) scale(1.0067,1)" font-size="11.16" fill="#000" >10</text>
<text transform="translate(38.85,81.87) scale(1.0586,1)" font-size="8.17" fill="#000" >5</text>
<text transform="translate(25.34,55.32) scale(1.0067,1)" font-size="11.16" fill="#000" >10</text>
<text transform="translate(38.75,51.35) scale(1.1037,1)" font-size="8.05" fill="#000" >6</text>
<text transform="translate(25.34,24.79) scale(1.0067,1)" font-size="11.16" fill="#000" >10</text>
<text transform="translate(38.74,20.9) scale(1.0886,1)" font-size="8.29" fill="#000" >7</text>
<text transform="translate(115.18,294.8) scale(1.1334,1)" font-size="11" fill="#000" >Landslide</text>
<text transform="translate(173.08,294.8) scale(1.1137,1)" font-size="11" fill="#000" >area</text>
<text transform="translate(202.22,294.8) scale(1.2461,1)" font-size="11" fill="#000" >[km</text>
<text transform="translate(224.29,291.2) scale(1.2156,1)" font-size="8.31" fill="#000" >2</text>
<text transform="translate(230.72,294.8) scale(0.9149,1)" font-size="11" fill="#000" >]</text>
<g transform="translate(16.3,223) rotate(-90)">
<text transform="translate(-1.09,0) scale(1.2099,1)" font-size="11" fill="#000" >Frequency density, f [km</text>
<text transform="translate(151.47,-4.4) scale(1.0487,1)" font-size="8.16" fill="#000" >2</text>
<text transform="translate(157.92,0) scale(0.9606,1)" font-size="11" fill="#000" >]</text>
<rect x="145.8" y="-7.1" width="5.0" height="0.8" fill="#000"/>
</g>
<text transform="translate(8.34,13.5) scale(1.0948,1)" font-size="11" fill="#000" >a)</text>
<path d="M353.0,158.9 L487.0,22.85" stroke="#000" stroke-width="1.15" stroke-dasharray="4.0,1.8" fill="none"/>
<g clip-path="url(#cb)">
<path d="M354.50,149.65 L357.85,156.35 L351.15,156.35Z" fill="#ff0000"/>
<path d="M361.50,152.85 L364.85,159.55 L358.15,159.55Z" fill="#ff0000"/>
<path d="M363.50,149.65 L366.85,156.35 L360.15,156.35Z" fill="#ff0000"/>
<path d="M364.10,140.65 L367.45,147.35 L360.75,147.35Z" fill="#ff0000"/>
<path d="M368.60,142.55 L371.95,149.25 L365.25,149.25Z" fill="#ff0000"/>
<path d="M374.40,135.45 L377.75,142.15 L371.05,142.15Z" fill="#ff0000"/>
<path d="M380.80,129.75 L384.15,136.45 L377.45,136.45Z" fill="#ff0000"/>
<path d="M386.50,139.35 L389.85,146.05 L383.15,146.05Z" fill="#ff0000"/>
<path d="M389.70,127.85 L393.05,134.55 L386.35,134.55Z" fill="#ff0000"/>
<path d="M397.90,128.75 L401.25,135.45 L394.55,135.45Z" fill="#ff0000"/>
<path d="M395.40,123.55 L398.75,130.25 L392.05,130.25Z" fill="#ff0000"/>
<path d="M437.90,46.75 L441.25,53.45 L434.55,53.45Z" fill="#ff0000"/>
<path d="M437.10,51.55 L440.45,58.25 L433.75,58.25Z" fill="#ff0000"/>
<path d="M438.60,58.35 L441.95,65.05 L435.25,65.05Z" fill="#ff0000"/>
<path d="M433.50,58.95 L436.85,65.65 L430.15,65.65Z" fill="#ff0000"/>
<path d="M427.70,63.45 L431.05,70.15 L424.35,70.15Z" fill="#ff0000"/>
<path d="M435.10,56.95 L438.45,63.65 L431.75,63.65Z" fill="#ff0000"/>
<path d="M431.30,60.75 L434.65,67.45 L427.95,67.45Z" fill="#ff0000"/>
<path d="M439.70,61.25 L443.05,67.95 L436.35,67.95Z" fill="#ff0000"/>
<path d="M403.60,77.15 L406.95,83.85 L400.25,83.85Z" fill="#ff0000"/>
<path d="M414.20,75.85 L417.55,82.55 L410.85,82.55Z" fill="#ff0000"/>
<path d="M416.50,75.15 L419.85,81.85 L413.15,81.85Z" fill="#ff0000"/>
<path d="M427.10,66.05 L430.45,72.75 L423.75,72.75Z" fill="#ff0000"/>
<path d="M424.90,68.65 L428.25,75.35 L421.55,75.35Z" fill="#ff0000"/>
<path d="M423.10,70.95 L426.45,77.65 L419.75,77.65Z" fill="#ff0000"/>
<path d="M421.30,73.15 L424.65,79.85 L417.95,79.85Z" fill="#ff0000"/>
<path d="M435.60,68.65 L438.95,75.35 L432.25,75.35Z" fill="#ff0000"/>
<path d="M432.10,71.35 L435.45,78.05 L428.75,78.05Z" fill="#ff0000"/>
<path d="M429.40,75.85 L432.75,82.55 L426.05,82.55Z" fill="#ff0000"/>
<path d="M428.00,61.65 L431.35,68.35 L424.65,68.35Z" fill="#ff0000"/>
<path d="M392.60,106.95 L395.95,113.65 L389.25,113.65Z" fill="#ff0000"/>
<path d="M396.70,108.75 L400.05,115.45 L393.35,115.45Z" fill="#ff0000"/>
<path d="M392.20,110.55 L395.55,117.25 L388.85,117.25Z" fill="#ff0000"/>
<path d="M394.90,115.85 L398.25,122.55 L391.55,122.55Z" fill="#ff0000"/>
<path d="M393.50,119.45 L396.85,126.15 L390.15,126.15Z" fill="#ff0000"/>
<path d="M395.80,121.25 L399.15,127.95 L392.45,127.95Z" fill="#ff0000"/>
<path d="M390.80,121.25 L394.15,127.95 L387.45,127.95Z" fill="#ff0000"/>
<path d="M403.90,101.55 L407.25,108.25 L400.55,108.25Z" fill="#ff0000"/>
<path d="M401.20,106.05 L404.55,112.75 L397.85,112.75Z" fill="#ff0000"/>
<path d="M407.40,109.65 L410.75,116.35 L404.05,116.35Z" fill="#ff0000"/>
<path d="M410.10,111.85 L413.45,118.55 L406.75,118.55Z" fill="#ff0000"/>
<path d="M399.40,112.25 L402.75,118.95 L396.05,118.95Z" fill="#ff0000"/>
<path d="M406.50,95.25 L409.85,101.95 L403.15,101.95Z" fill="#ff0000"/>
<path d="M411.00,92.55 L414.35,99.25 L407.65,99.25Z" fill="#ff0000"/>
<path d="M414.60,101.55 L417.95,108.25 L411.25,108.25Z" fill="#ff0000"/>
<path d="M418.20,98.85 L421.55,105.55 L414.85,105.55Z" fill="#ff0000"/>
<path d="M398.50,118.55 L401.85,125.25 L395.15,125.25Z" fill="#ff0000"/>
<path d="M403.00,114.05 L406.35,120.75 L399.65,120.75Z" fill="#ff0000"/>
<path d="M395.40,113.35 L398.75,120.05 L392.05,120.05Z" fill="#ff0000"/>
<path d="M392.00,116.65 L395.35,123.35 L388.65,123.35Z" fill="#ff0000"/>
<path d="M393.00,126.65 L396.35,133.35 L389.65,133.35Z" fill="#ff0000"/>
<path d="M410.00,88.65 L413.35,95.35 L406.65,95.35Z" fill="#ff0000"/>
<path d="M414.00,83.65 L417.35,90.35 L410.65,90.35Z" fill="#ff0000"/>
<path d="M418.00,80.65 L421.35,87.35 L414.65,87.35Z" fill="#ff0000"/>
<path d="M420.00,88.65 L423.35,95.35 L416.65,95.35Z" fill="#ff0000"/>
<path d="M416.00,93.65 L419.35,100.35 L412.65,100.35Z" fill="#ff0000"/>
<path d="M419.00,77.65 L422.35,84.35 L415.65,84.35Z" fill="#ff0000"/>
<path d="M422.00,82.65 L425.35,89.35 L418.65,89.35Z" fill="#ff0000"/>
<path d="M426.00,86.65 L429.35,93.35 L422.65,93.35Z" fill="#ff0000"/>
<path d="M404.00,120.65 L407.35,127.35 L400.65,127.35Z" fill="#ff0000"/>
<path d="M408.00,117.65 L411.35,124.35 L404.65,124.35Z" fill="#ff0000"/>
<path d="M396.00,96.65 L399.35,103.35 L392.65,103.35Z" fill="#ff0000"/>
<path d="M400.00,98.65 L403.35,105.35 L396.65,105.35Z" fill="#ff0000"/>
<path d="M404.00,88.65 L407.35,95.35 L400.65,95.35Z" fill="#ff0000"/>
<path d="M399.00,103.65 L402.35,110.35 L395.65,110.35Z" fill="#ff0000"/>
<path d="M420.00,96.65 L423.35,103.35 L416.65,103.35Z" fill="#ff0000"/>
<path d="M423.00,100.65 L426.35,107.35 L419.65,107.35Z" fill="#ff0000"/>
<path d="M419.00,104.65 L422.35,111.35 L415.65,111.35Z" fill="#ff0000"/>
<path d="M424.00,92.65 L427.35,99.35 L420.65,99.35Z" fill="#ff0000"/>
<path d="M430.00,84.65 L433.35,91.35 L426.65,91.35Z" fill="#ff0000"/>
<path d="M427.00,91.65 L430.35,98.35 L423.65,98.35Z" fill="#ff0000"/>
<path d="M417.00,108.65 L420.35,115.35 L413.65,115.35Z" fill="#ff0000"/>
<path d="M412.00,106.65 L415.35,113.35 L408.65,113.35Z" fill="#ff0000"/>
<path d="M414.00,113.65 L417.35,120.35 L410.65,120.35Z" fill="#ff0000"/>
<path d="M409.00,119.65 L412.35,126.35 L405.65,126.35Z" fill="#ff0000"/>
<path d="M396.54,125.34 L399.89,132.04 L393.19,132.04Z" fill="#ff0000"/>
<path d="M407.82,94.49 L411.17,101.19 L404.47,101.19Z" fill="#ff0000"/>
<path d="M422.80,77.02 L426.15,83.72 L419.45,83.72Z" fill="#ff0000"/>
<path d="M396.04,114.96 L399.39,121.66 L392.69,121.66Z" fill="#ff0000"/>
<path d="M417.24,92.44 L420.59,99.14 L413.89,99.14Z" fill="#ff0000"/>
<path d="M407.02,100.43 L410.37,107.13 L403.67,107.13Z" fill="#ff0000"/>
<path d="M401.00,116.01 L404.35,122.71 L397.65,122.71Z" fill="#ff0000"/>
<path d="M433.23,66.18 L436.58,72.88 L429.88,72.88Z" fill="#ff0000"/>
<path d="M393.24,122.95 L396.59,129.65 L389.89,129.65Z" fill="#ff0000"/>
<path d="M390.25,118.75 L393.60,125.45 L386.90,125.45Z" fill="#ff0000"/>
<path d="M426.70,71.13 L430.05,77.83 L423.35,77.83Z" fill="#ff0000"/>
<path d="M434.68,58.64 L438.03,65.34 L431.33,65.34Z" fill="#ff0000"/>
<path d="M430.06,70.72 L433.41,77.42 L426.71,77.42Z" fill="#ff0000"/>
<path d="M403.94,110.46 L407.29,117.16 L400.59,117.16Z" fill="#ff0000"/>
<path d="M401.50,119.20 L404.85,125.90 L398.15,125.90Z" fill="#ff0000"/>
<path d="M392.11,121.06 L395.46,127.76 L388.76,127.76Z" fill="#ff0000"/>
<path d="M405.56,104.27 L408.91,110.97 L402.21,110.97Z" fill="#ff0000"/>
<path d="M435.54,65.21 L438.89,71.91 L432.19,71.91Z" fill="#ff0000"/>
<path d="M391.52,115.99 L394.87,122.69 L388.17,122.69Z" fill="#ff0000"/>
<path d="M427.78,76.43 L431.13,83.13 L424.43,83.13Z" fill="#ff0000"/>
<path d="M429.28,75.09 L432.63,81.79 L425.93,81.79Z" fill="#ff0000"/>
<path d="M401.23,102.72 L404.58,109.42 L397.88,109.42Z" fill="#ff0000"/>
<path d="M403.81,115.76 L407.16,122.46 L400.46,122.46Z" fill="#ff0000"/>
<path d="M410.17,97.59 L413.52,104.29 L406.82,104.29Z" fill="#ff0000"/>
<path d="M396.90,115.80 L400.25,122.50 L393.55,122.50Z" fill="#ff0000"/>
<path d="M404.24,104.37 L407.59,111.07 L400.89,111.07Z" fill="#ff0000"/>
<path d="M394.52,121.45 L397.87,128.15 L391.17,128.15Z" fill="#ff0000"/>
<path d="M410.10,95.74 L413.45,102.44 L406.75,102.44Z" fill="#ff0000"/>
<path d="M438.70,59.92 L442.05,66.62 L435.35,66.62Z" fill="#ff0000"/>
<path d="M399.58,109.50 L402.93,116.20 L396.23,116.20Z" fill="#ff0000"/>
<path d="M402.03,120.81 L405.38,127.51 L398.68,127.51Z" fill="#ff0000"/>
<path d="M397.15,126.02 L400.50,132.72 L393.80,132.72Z" fill="#ff0000"/>
<path d="M413.36,95.41 L416.71,102.11 L410.01,102.11Z" fill="#ff0000"/>
<path d="M391.12,115.76 L394.47,122.46 L387.77,122.46Z" fill="#ff0000"/>
<path d="M407.09,105.22 L410.44,111.92 L403.74,111.92Z" fill="#ff0000"/>
<path d="M411.36,94.64 L414.71,101.34 L408.01,101.34Z" fill="#ff0000"/>
<path d="M401.68,110.10 L405.03,116.80 L398.33,116.80Z" fill="#ff0000"/>
<path d="M430.35,65.70 L433.70,72.40 L427.00,72.40Z" fill="#ff0000"/>
<path d="M404.61,99.95 L407.96,106.65 L401.26,106.65Z" fill="#ff0000"/>
<path d="M402.82,106.92 L406.17,113.62 L399.47,113.62Z" fill="#ff0000"/>
<path d="M433.76,67.95 L437.11,74.65 L430.41,74.65Z" fill="#ff0000"/>
<path d="M396.73,118.33 L400.08,125.03 L393.38,125.03Z" fill="#ff0000"/>
<path d="M405.50,104.19 L408.85,110.89 L402.15,110.89Z" fill="#ff0000"/>
<path d="M412.54,91.82 L415.89,98.52 L409.19,98.52Z" fill="#ff0000"/>
<path d="M402.47,117.18 L405.82,123.88 L399.12,123.88Z" fill="#ff0000"/>
<path d="M434.89,75.84 L438.24,82.54 L431.54,82.54Z" fill="#ff0000"/>
<path d="M428.48,98.42 L431.83,105.12 L425.13,105.12Z" fill="#ff0000"/>
<path d="M421.57,95.10 L424.92,101.80 L418.22,101.80Z" fill="#ff0000"/>
<path d="M421.18,96.72 L424.53,103.42 L417.83,103.42Z" fill="#ff0000"/>
<path d="M420.71,98.65 L424.06,105.35 L417.36,105.35Z" fill="#ff0000"/>
<path d="M431.00,88.16 L434.35,94.86 L427.65,94.86Z" fill="#ff0000"/>
<path d="M436.16,66.78 L439.51,73.48 L432.81,73.48Z" fill="#ff0000"/>
<path d="M422.88,90.52 L426.23,97.22 L419.53,97.22Z" fill="#ff0000"/>
<path d="M425.47,99.12 L428.82,105.82 L422.12,105.82Z" fill="#ff0000"/>
<path d="M417.04,106.94 L420.39,113.64 L413.69,113.64Z" fill="#ff0000"/>
<path d="M423.05,91.33 L426.40,98.03 L419.70,98.03Z" fill="#ff0000"/>
<path d="M432.77,66.27 L436.12,72.97 L429.42,72.97Z" fill="#ff0000"/>
<path d="M428.30,90.01 L431.65,96.71 L424.95,96.71Z" fill="#ff0000"/>
<path d="M433.21,72.75 L436.56,79.45 L429.86,79.45Z" fill="#ff0000"/>
<path d="M432.77,87.49 L436.12,94.19 L429.42,94.19Z" fill="#ff0000"/>
<path d="M383.00,118.00 L388.80,123.80 M388.80,118.00 L383.00,123.80" stroke="#000" stroke-width="1.3" fill="none"/>
<path d="M378.90,129.50 L384.70,135.30 M384.70,129.50 L378.90,135.30" stroke="#000" stroke-width="1.3" fill="none"/>
<path d="M387.10,128.30 L392.90,134.10 M392.90,128.30 L387.10,134.10" stroke="#000" stroke-width="1.3" fill="none"/>
<path d="M372.70,141.70 L378.50,147.50 M378.50,141.70 L372.70,147.50" stroke="#000" stroke-width="1.3" fill="none"/>
<path d="M388.80,146.20 L394.60,152.00 M394.60,146.20 L388.80,152.00" stroke="#000" stroke-width="1.3" fill="none"/>
<path d="M441.50,62.00 L447.30,67.80 M447.30,62.00 L441.50,67.80" stroke="#000" stroke-width="1.3" fill="none"/>
<path d="M430.60,65.10 L436.40,70.90 M436.40,65.10 L430.60,70.90" stroke="#000" stroke-width="1.3" fill="none"/>
<path d="M420.30,65.80 L426.10,71.60 M426.10,65.80 L420.30,71.60" stroke="#000" stroke-width="1.3" fill="none"/>
<path d="M400.20,94.50 L406.00,100.30 M406.00,94.50 L400.20,100.30" stroke="#000" stroke-width="1.3" fill="none"/>
<path d="M394.20,102.40 L400.00,108.20 M400.00,102.40 L394.20,108.20" stroke="#000" stroke-width="1.3" fill="none"/>
<path d="M403.60,100.20 L409.40,106.00 M409.40,100.20 L403.60,106.00" stroke="#000" stroke-width="1.3" fill="none"/>
<path d="M407.20,97.50 L413.00,103.30 M413.00,97.50 L407.20,103.30" stroke="#000" stroke-width="1.3" fill="none"/>
<path d="M410.80,94.80 L416.60,100.60 M416.60,94.80 L410.80,100.60" stroke="#000" stroke-width="1.3" fill="none"/>
<path d="M402.70,104.70 L408.50,110.50 M408.50,104.70 L402.70,110.50" stroke="#000" stroke-width="1.3" fill="none"/>
<path d="M399.20,111.40 L405.00,117.20 M405.00,111.40 L399.20,117.20" stroke="#000" stroke-width="1.3" fill="none"/>
<path d="M401.40,117.70 L407.20,123.50 M407.20,117.70 L401.40,123.50" stroke="#000" stroke-width="1.3" fill="none"/>
<path d="M411.30,117.20 L417.10,123.00 M417.10,117.20 L411.30,123.00" stroke="#000" stroke-width="1.3" fill="none"/>
<path d="M406.30,124.40 L412.10,130.20 M412.10,124.40 L406.30,130.20" stroke="#000" stroke-width="1.3" fill="none"/>
<path d="M412.60,124.40 L418.40,130.20 M418.40,124.40 L412.60,130.20" stroke="#000" stroke-width="1.3" fill="none"/>
<path d="M409.00,105.60 L414.80,111.40 M414.80,105.60 L409.00,111.40" stroke="#000" stroke-width="1.3" fill="none"/>
<path d="M412.60,109.20 L418.40,115.00 M418.40,109.20 L412.60,115.00" stroke="#000" stroke-width="1.3" fill="none"/>
<path d="M400.90,130.20 L406.70,136.00 M406.70,130.20 L400.90,136.00" stroke="#000" stroke-width="1.3" fill="none"/>
<path d="M409.30,126.30 L415.10,132.10 M415.10,126.30 L409.30,132.10" stroke="#000" stroke-width="1.3" fill="none"/>
<path d="M414.40,125.10 L420.20,130.90 M420.20,125.10 L414.40,130.90" stroke="#000" stroke-width="1.3" fill="none"/>
<path d="M409.30,130.80 L415.10,136.60 M415.10,130.80 L409.30,136.60" stroke="#000" stroke-width="1.3" fill="none"/>
<path d="M407.40,128.90 L413.20,134.70 M413.20,128.90 L407.40,134.70" stroke="#000" stroke-width="1.3" fill="none"/>
<path d="M413.80,138.50 L419.60,144.30 M419.60,138.50 L413.80,144.30" stroke="#000" stroke-width="1.3" fill="none"/>
<path d="M427.10,138.00 L432.90,143.80 M432.90,138.00 L427.10,143.80" stroke="#000" stroke-width="1.3" fill="none"/>
<path d="M436.50,136.60 L442.30,142.40 M442.30,136.60 L436.50,142.40" stroke="#000" stroke-width="1.3" fill="none"/>
<path d="M404.20,153.90 L410.00,159.70 M410.00,153.90 L404.20,159.70" stroke="#000" stroke-width="1.3" fill="none"/>
<path d="M417.00,112.20 L422.80,118.00 M422.80,112.20 L417.00,118.00" stroke="#000" stroke-width="1.3" fill="none"/>
<path d="M422.70,110.90 L428.50,116.70 M428.50,110.90 L422.70,116.70" stroke="#000" stroke-width="1.3" fill="none"/>
<path d="M431.70,109.00 L437.50,114.80 M437.50,109.00 L431.70,114.80" stroke="#000" stroke-width="1.3" fill="none"/>
<path d="M434.30,109.70 L440.10,115.50 M440.10,109.70 L434.30,115.50" stroke="#000" stroke-width="1.3" fill="none"/>
<path d="M432.40,113.50 L438.20,119.30 M438.20,113.50 L432.40,119.30" stroke="#000" stroke-width="1.3" fill="none"/>
<path d="M427.20,119.30 L433.00,125.10 M433.00,119.30 L427.20,125.10" stroke="#000" stroke-width="1.3" fill="none"/>
<path d="M425.30,123.10 L431.10,128.90 M431.10,123.10 L425.30,128.90" stroke="#000" stroke-width="1.3" fill="none"/>
<path d="M442.20,73.20 L448.00,79.00 M448.00,73.20 L442.20,79.00" stroke="#000" stroke-width="1.3" fill="none"/>
<path d="M435.00,67.40 L440.80,73.20 M440.80,67.40 L435.00,73.20" stroke="#000" stroke-width="1.3" fill="none"/>
<path d="M437.20,69.10 L443.00,74.90 M443.00,69.10 L437.20,74.90" stroke="#000" stroke-width="1.3" fill="none"/>
<path d="M423.80,75.90 L429.60,81.70 M429.60,75.90 L423.80,81.70" stroke="#000" stroke-width="1.3" fill="none"/>
<path d="M421.10,79.00 L426.90,84.80 M426.90,79.00 L421.10,84.80" stroke="#000" stroke-width="1.3" fill="none"/>
<path d="M418.40,81.70 L424.20,87.50 M424.20,81.70 L418.40,87.50" stroke="#000" stroke-width="1.3" fill="none"/>
<path d="M415.70,84.00 L421.50,89.80 M421.50,84.00 L415.70,89.80" stroke="#000" stroke-width="1.3" fill="none"/>
<path d="M426.00,79.00 L431.80,84.80 M431.80,79.00 L426.00,84.80" stroke="#000" stroke-width="1.3" fill="none"/>
<path d="M428.30,81.70 L434.10,87.50 M434.10,81.70 L428.30,87.50" stroke="#000" stroke-width="1.3" fill="none"/>
<path d="M432.70,75.40 L438.50,81.20 M438.50,75.40 L432.70,81.20" stroke="#000" stroke-width="1.3" fill="none"/>
<path d="M437.20,75.40 L443.00,81.20 M443.00,75.40 L437.20,81.20" stroke="#000" stroke-width="1.3" fill="none"/>
<path d="M439.00,79.00 L444.80,84.80 M444.80,79.00 L439.00,84.80" stroke="#000" stroke-width="1.3" fill="none"/>
<path d="M434.50,81.70 L440.30,87.50 M440.30,81.70 L434.50,87.50" stroke="#000" stroke-width="1.3" fill="none"/>
<path d="M438.10,84.00 L443.90,89.80 M443.90,84.00 L438.10,89.80" stroke="#000" stroke-width="1.3" fill="none"/>
<path d="M430.10,84.00 L435.90,89.80 M435.90,84.00 L430.10,89.80" stroke="#000" stroke-width="1.3" fill="none"/>
<path d="M423.80,84.00 L429.60,89.80 M429.60,84.00 L423.80,89.80" stroke="#000" stroke-width="1.3" fill="none"/>
<path d="M443.50,88.40 L449.30,94.20 M449.30,88.40 L443.50,94.20" stroke="#000" stroke-width="1.3" fill="none"/>
<path d="M442.20,94.20 L448.00,100.00 M448.00,94.20 L442.20,100.00" stroke="#000" stroke-width="1.3" fill="none"/>
<path d="M442.60,103.20 L448.40,109.00 M448.40,103.20 L442.60,109.00" stroke="#000" stroke-width="1.3" fill="none"/>
<path d="M439.00,100.10 L444.80,105.90 M444.80,100.10 L439.00,105.90" stroke="#000" stroke-width="1.3" fill="none"/>
<path d="M437.20,106.30 L443.00,112.10 M443.00,106.30 L437.20,112.10" stroke="#000" stroke-width="1.3" fill="none"/>
<path d="M426.50,107.20 L432.30,113.00 M432.30,107.20 L426.50,113.00" stroke="#000" stroke-width="1.3" fill="none"/>
<path d="M424.70,115.30 L430.50,121.10 M430.50,115.30 L424.70,121.10" stroke="#000" stroke-width="1.3" fill="none"/>
<path d="M433.50,106.70 L439.30,112.50 M439.30,106.70 L433.50,112.50" stroke="#000" stroke-width="1.3" fill="none"/>
<path d="M420.20,113.40 L426.00,119.20 M426.00,113.40 L420.20,119.20" stroke="#000" stroke-width="1.3" fill="none"/>
<path d="M432.60,108.17 L438.40,113.97 M438.40,108.17 L432.60,113.97" stroke="#000" stroke-width="1.3" fill="none"/>
<path d="M436.82,75.91 L442.62,81.71 M442.62,75.91 L436.82,81.71" stroke="#000" stroke-width="1.3" fill="none"/>
<path d="M423.50,107.03 L429.30,112.83 M429.30,107.03 L423.50,112.83" stroke="#000" stroke-width="1.3" fill="none"/>
<path d="M437.42,87.56 L443.22,93.36 M443.22,87.56 L437.42,93.36" stroke="#000" stroke-width="1.3" fill="none"/>
<path d="M429.23,91.67 L435.03,97.47 M435.03,91.67 L429.23,97.47" stroke="#000" stroke-width="1.3" fill="none"/>
<path d="M428.15,109.12 L433.95,114.92 M433.95,109.12 L428.15,114.92" stroke="#000" stroke-width="1.3" fill="none"/>
<path d="M432.72,89.78 L438.52,95.58 M438.52,89.78 L432.72,95.58" stroke="#000" stroke-width="1.3" fill="none"/>
<path d="M429.01,76.98 L434.81,82.78 M434.81,76.98 L429.01,82.78" stroke="#000" stroke-width="1.3" fill="none"/>
<path d="M434.48,74.73 L440.28,80.53 M440.28,74.73 L434.48,80.53" stroke="#000" stroke-width="1.3" fill="none"/>
<path d="M438.34,72.51 L444.14,78.31 M444.14,72.51 L438.34,78.31" stroke="#000" stroke-width="1.3" fill="none"/>
<path d="M432.52,98.58 L438.32,104.38 M438.32,98.58 L432.52,104.38" stroke="#000" stroke-width="1.3" fill="none"/>
<path d="M441.89,80.70 L447.69,86.50 M447.69,80.70 L441.89,86.50" stroke="#000" stroke-width="1.3" fill="none"/>
<path d="M434.54,79.87 L440.34,85.67 M440.34,79.87 L434.54,85.67" stroke="#000" stroke-width="1.3" fill="none"/>
<path d="M428.92,84.65 L434.72,90.45 M434.72,84.65 L428.92,90.45" stroke="#000" stroke-width="1.3" fill="none"/>
<path d="M431.20,74.67 L437.00,80.47 M437.00,74.67 L431.20,80.47" stroke="#000" stroke-width="1.3" fill="none"/>
<path d="M430.24,71.82 L436.04,77.62 M436.04,71.82 L430.24,77.62" stroke="#000" stroke-width="1.3" fill="none"/>
<path d="M440.94,82.13 L446.74,87.93 M446.74,82.13 L440.94,87.93" stroke="#000" stroke-width="1.3" fill="none"/>
<path d="M431.45,89.69 L437.25,95.49 M437.25,89.69 L431.45,95.49" stroke="#000" stroke-width="1.3" fill="none"/>
<path d="M437.37,92.21 L443.17,98.01 M443.17,92.21 L437.37,98.01" stroke="#000" stroke-width="1.3" fill="none"/>
<path d="M442.59,69.86 L448.39,75.66 M448.39,69.86 L442.59,75.66" stroke="#000" stroke-width="1.3" fill="none"/>
<path d="M433.41,75.91 L439.21,81.71 M439.21,75.91 L433.41,81.71" stroke="#000" stroke-width="1.3" fill="none"/>
<path d="M433.81,80.80 L439.61,86.60 M439.61,80.80 L433.81,86.60" stroke="#000" stroke-width="1.3" fill="none"/>
<path d="M437.58,83.45 L443.38,89.25 M443.38,83.45 L437.58,89.25" stroke="#000" stroke-width="1.3" fill="none"/>
<path d="M437.42,73.14 L443.22,78.94 M443.22,73.14 L437.42,78.94" stroke="#000" stroke-width="1.3" fill="none"/>
<path d="M412.85,96.58 L418.65,102.38 M418.65,96.58 L412.85,102.38" stroke="#000" stroke-width="1.3" fill="none"/>
<path d="M410.25,93.44 L416.05,99.24 M416.05,93.44 L410.25,99.24" stroke="#000" stroke-width="1.3" fill="none"/>
<path d="M403.79,100.31 L409.59,106.11 M409.59,100.31 L403.79,106.11" stroke="#000" stroke-width="1.3" fill="none"/>
<path d="M416.05,89.33 L421.85,95.13 M421.85,89.33 L416.05,95.13" stroke="#000" stroke-width="1.3" fill="none"/>
<path d="M400.94,110.92 L406.74,116.72 M406.74,110.92 L400.94,116.72" stroke="#000" stroke-width="1.3" fill="none"/>
<path d="M423.78,76.99 L429.58,82.79 M429.58,76.99 L423.78,82.79" stroke="#000" stroke-width="1.3" fill="none"/>
<path d="M401.51,108.41 L407.31,114.21 M407.31,108.41 L401.51,114.21" stroke="#000" stroke-width="1.3" fill="none"/>
<path d="M420.34,82.58 L426.14,88.38 M426.14,82.58 L420.34,88.38" stroke="#000" stroke-width="1.3" fill="none"/>
<path d="M425.25,79.38 L431.05,85.18 M431.05,79.38 L425.25,85.18" stroke="#000" stroke-width="1.3" fill="none"/>
<path d="M412.80,96.99 L418.60,102.79 M418.60,96.99 L412.80,102.79" stroke="#000" stroke-width="1.3" fill="none"/>
<path d="M440.19,72.08 L445.99,77.88 M445.99,72.08 L440.19,77.88" stroke="#000" stroke-width="1.3" fill="none"/>
<path d="M426.54,95.27 L432.34,101.07 M432.34,95.27 L426.54,101.07" stroke="#000" stroke-width="1.3" fill="none"/>
<path d="M421.24,79.51 L427.04,85.31 M427.04,79.51 L421.24,85.31" stroke="#000" stroke-width="1.3" fill="none"/>
<path d="M440.36,78.27 L446.16,84.07 M446.16,78.27 L440.36,84.07" stroke="#000" stroke-width="1.3" fill="none"/>
<path d="M432.56,66.02 L438.36,71.82 M438.36,66.02 L432.56,71.82" stroke="#000" stroke-width="1.3" fill="none"/>
<path d="M440.26,82.01 L446.06,87.81 M446.06,82.01 L440.26,87.81" stroke="#000" stroke-width="1.3" fill="none"/>
<path d="M425.56,93.72 L431.36,99.52 M431.36,93.72 L425.56,99.52" stroke="#000" stroke-width="1.3" fill="none"/>
<path d="M424.90,84.21 L430.70,90.01 M430.70,84.21 L424.90,90.01" stroke="#000" stroke-width="1.3" fill="none"/>
<path d="M437.88,84.32 L443.68,90.12 M443.68,84.32 L437.88,90.12" stroke="#000" stroke-width="1.3" fill="none"/>
<path d="M438.32,74.57 L444.12,80.37 M444.12,74.57 L438.32,80.37" stroke="#000" stroke-width="1.3" fill="none"/>
<path d="M436.25,80.24 L442.05,86.04 M442.05,80.24 L436.25,86.04" stroke="#000" stroke-width="1.3" fill="none"/>
<path d="M438.15,81.17 L443.95,86.97 M443.95,81.17 L438.15,86.97" stroke="#000" stroke-width="1.3" fill="none"/>
<path d="M422.34,86.49 L428.14,92.29 M428.14,86.49 L422.34,92.29" stroke="#000" stroke-width="1.3" fill="none"/>
<path d="M438.52,92.35 L444.32,98.15 M444.32,92.35 L438.52,98.15" stroke="#000" stroke-width="1.3" fill="none"/>
<path d="M433.44,100.10 L439.24,105.90 M439.24,100.10 L433.44,105.90" stroke="#000" stroke-width="1.3" fill="none"/>
<path d="M428.76,72.35 L434.56,78.15 M434.56,72.35 L428.76,78.15" stroke="#000" stroke-width="1.3" fill="none"/>
<path d="M436.26,107.05 L442.06,112.85 M442.06,107.05 L436.26,112.85" stroke="#000" stroke-width="1.3" fill="none"/>
<path d="M433.96,92.32 L439.76,98.12 M439.76,92.32 L433.96,98.12" stroke="#000" stroke-width="1.3" fill="none"/>
<path d="M436.76,96.70 L442.56,102.50 M442.56,96.70 L436.76,102.50" stroke="#000" stroke-width="1.3" fill="none"/>
<path d="M431.78,110.57 L437.58,116.37 M437.58,110.57 L431.78,116.37" stroke="#000" stroke-width="1.3" fill="none"/>
<path d="M437.95,107.66 L443.75,113.46 M443.75,107.66 L437.95,113.46" stroke="#000" stroke-width="1.3" fill="none"/>
<path d="M433.65,109.82 L439.45,115.62 M439.45,109.82 L433.65,115.62" stroke="#000" stroke-width="1.3" fill="none"/>
<path d="M423.45,108.66 L429.25,114.46 M429.25,108.66 L423.45,114.46" stroke="#000" stroke-width="1.3" fill="none"/>
<path d="M430.51,94.20 L436.31,100.00 M436.31,94.20 L430.51,100.00" stroke="#000" stroke-width="1.3" fill="none"/>
<path d="M433.25,109.88 L439.05,115.68 M439.05,109.88 L433.25,115.68" stroke="#000" stroke-width="1.3" fill="none"/>
<path d="M429.39,109.09 L435.19,114.89 M435.19,109.09 L429.39,114.89" stroke="#000" stroke-width="1.3" fill="none"/>
</g>
<rect x="353.0" y="22.85" width="134.00" height="136.05" fill="none" stroke="#000" stroke-width="0.9"/>
<path d="M353.00,158.90 l0,3.8 M397.67,158.90 l0,3.8 M442.33,158.90 l0,3.8 M487.00,158.90 l0,3.8 M353.00,158.90 l-3.8,0 M353.00,113.55 l-3.8,0 M353.00,68.20 l-3.8,0 M353.00,22.85 l-3.8,0" stroke="#000" stroke-width="0.88"/>
<path d="M366.45,158.90 l0,2.2 M374.31,158.90 l0,2.2 M379.89,158.90 l0,2.2 M384.22,158.90 l0,2.2 M387.76,158.90 l0,2.2 M390.75,158.90 l0,2.2 M393.34,158.90 l0,2.2 M395.62,158.90 l0,2.2 M411.11,158.90 l0,2.2 M418.98,158.90 l0,2.2 M424.56,158.90 l0,2.2 M428.89,158.90 l0,2.2 M432.42,158.90 l0,2.2 M435.41,158.90 l0,2.2 M438.00,158.90 l0,2.2 M440.29,158.90 l0,2.2 M455.78,158.90 l0,2.2 M463.64,158.90 l0,2.2 M469.23,158.90 l0,2.2 M473.55,158.90 l0,2.2 M477.09,158.90 l0,2.2 M480.08,158.90 l0,2.2 M482.67,158.90 l0,2.2 M484.96,158.90 l0,2.2 M353.00,145.25 l-2.2,0 M353.00,137.26 l-2.2,0 M353.00,131.60 l-2.2,0 M353.00,127.20 l-2.2,0 M353.00,123.61 l-2.2,0 M353.00,120.57 l-2.2,0 M353.00,117.94 l-2.2,0 M353.00,115.63 l-2.2,0 M353.00,99.90 l-2.2,0 M353.00,91.91 l-2.2,0 M353.00,86.25 l-2.2,0 M353.00,81.85 l-2.2,0 M353.00,78.26 l-2.2,0 M353.00,75.22 l-2.2,0 M353.00,72.59 l-2.2,0 M353.00,70.28 l-2.2,0 M353.00,54.55 l-2.2,0 M353.00,46.56 l-2.2,0 M353.00,40.90 l-2.2,0 M353.00,36.50 l-2.2,0 M353.00,32.91 l-2.2,0 M353.00,29.87 l-2.2,0 M353.00,27.24 l-2.2,0 M353.00,24.93 l-2.2,0" stroke="#000" stroke-width="0.66"/>
<text transform="translate(343.51,173.69) scale(1.0516,1)" font-size="11.16" fill="#000" >10</text>
<text transform="translate(357.16,169.72) scale(1.0654,1)" font-size="8.05" fill="#000" >0</text>
<text transform="translate(328.14,163.29) scale(1.0067,1)" font-size="11.16" fill="#000" >10</text>
<text transform="translate(341.66,159.32) scale(1.0654,1)" font-size="8.05" fill="#000" >0</text>
<text transform="translate(388.37,173.69) scale(1.0516,1)" font-size="11.16" fill="#000" >10</text>
<text transform="translate(401.71,169.8) scale(1.0358,1)" font-size="8.29" fill="#000" >1</text>
<text transform="translate(328.54,117.94) scale(1.0067,1)" font-size="11.16" fill="#000" >10</text>
<text transform="translate(341.75,114.05) scale(1.0358,1)" font-size="8.29" fill="#000" >1</text>
<text transform="translate(432.84,173.69) scale(1.0516,1)" font-size="11.16" fill="#000" >10</text>
<text transform="translate(446.38,169.8) scale(1.1025,1)" font-size="8.16" fill="#000" >2</text>
<text transform="translate(328.14,72.59) scale(1.0067,1)" font-size="11.16" fill="#000" >10</text>
<text transform="translate(341.55,68.7) scale(1.1025,1)" font-size="8.16" fill="#000" >2</text>
<text transform="translate(477.51,173.69) scale(1.0516,1)" font-size="11.16" fill="#000" >10</text>
<text transform="translate(491.17,169.72) scale(1.0741,1)" font-size="8.05" fill="#000" >3</text>
<text transform="translate(328.14,27.24) scale(1.0067,1)" font-size="11.16" fill="#000" >10</text>
<text transform="translate(341.67,23.27) scale(1.0741,1)" font-size="8.05" fill="#000" >3</text>
<text transform="translate(311.25,15.3) scale(1.1919,1)" font-size="11" fill="#000" >b)</text>
<g transform="translate(322.6,126.5) rotate(-90)">
<text transform="translate(-0.06,0) scale(1.1915,1)" font-size="11" fill="#000" >Volume</text>
<text transform="translate(46.72,0) scale(1.2512,1)" font-size="11" fill="#000" >[m</text>
<text transform="translate(61.41,-4.88) scale(1.2575,1)" font-size="8.05" fill="#000" >3</text>
<text transform="translate(68.71,0) scale(1.0521,1)" font-size="11" fill="#000" >]</text>
</g>
<path d="M353.0,302.10 L487.0,302.10" stroke="#000" stroke-width="0.95" stroke-dasharray="3.25,1.4" stroke-dashoffset="0.95" fill="none"/>
<g clip-path="url(#cc)">
<path d="M353.50,274.35 L356.85,281.05 L350.15,281.05Z" fill="#ff0000"/>
<path d="M363.80,278.45 L367.15,285.15 L360.45,285.15Z" fill="#ff0000"/>
<path d="M361.20,285.15 L364.55,291.85 L357.85,291.85Z" fill="#ff0000"/>
<path d="M364.80,285.15 L368.15,291.85 L361.45,291.85Z" fill="#ff0000"/>
<path d="M368.90,284.65 L372.25,291.35 L365.55,291.35Z" fill="#ff0000"/>
<path d="M374.60,283.15 L377.95,289.85 L371.25,289.85Z" fill="#ff0000"/>
<path d="M370.50,292.85 L373.85,299.55 L367.15,299.55Z" fill="#ff0000"/>
<path d="M380.70,283.65 L384.05,290.35 L377.35,290.35Z" fill="#ff0000"/>
<path d="M390.50,274.35 L393.85,281.05 L387.15,281.05Z" fill="#ff0000"/>
<path d="M386.90,291.35 L390.25,298.05 L383.55,298.05Z" fill="#ff0000"/>
<path d="M389.40,288.75 L392.75,295.45 L386.05,295.45Z" fill="#ff0000"/>
<path d="M403.30,231.85 L406.65,238.55 L399.95,238.55Z" fill="#ff0000"/>
<path d="M437.60,246.25 L440.95,252.95 L434.25,252.95Z" fill="#ff0000"/>
<path d="M436.90,254.45 L440.25,261.15 L433.55,261.15Z" fill="#ff0000"/>
<path d="M414.10,258.05 L417.45,264.75 L410.75,264.75Z" fill="#ff0000"/>
<path d="M427.40,259.55 L430.75,266.25 L424.05,266.25Z" fill="#ff0000"/>
<path d="M392.20,273.15 L395.55,279.85 L388.85,279.85Z" fill="#ff0000"/>
<path d="M391.20,271.15 L394.55,277.85 L387.85,277.85Z" fill="#ff0000"/>
<path d="M398.80,272.15 L402.15,278.85 L395.45,278.85Z" fill="#ff0000"/>
<path d="M410.60,271.65 L413.95,278.35 L407.25,278.35Z" fill="#ff0000"/>
<path d="M416.30,268.55 L419.65,275.25 L412.95,275.25Z" fill="#ff0000"/>
<path d="M420.90,267.05 L424.25,273.75 L417.55,273.75Z" fill="#ff0000"/>
<path d="M424.50,262.95 L427.85,269.65 L421.15,269.65Z" fill="#ff0000"/>
<path d="M426.70,260.75 L430.05,267.45 L423.35,267.45Z" fill="#ff0000"/>
<path d="M424.10,263.35 L427.45,270.05 L420.75,270.05Z" fill="#ff0000"/>
<path d="M430.30,262.25 L433.65,268.95 L426.95,268.95Z" fill="#ff0000"/>
<path d="M433.30,263.35 L436.65,270.05 L429.95,270.05Z" fill="#ff0000"/>
<path d="M436.40,267.45 L439.75,274.15 L433.05,274.15Z" fill="#ff0000"/>
<path d="M439.00,272.05 L442.35,278.75 L435.65,278.75Z" fill="#ff0000"/>
<path d="M429.52,281.07 L432.87,287.77 L426.17,287.77Z" fill="#ff0000"/>
<path d="M425.46,261.95 L428.81,268.65 L422.11,268.65Z" fill="#ff0000"/>
<path d="M396.24,283.52 L399.59,290.22 L392.89,290.22Z" fill="#ff0000"/>
<path d="M433.67,284.51 L437.02,291.21 L430.32,291.21Z" fill="#ff0000"/>
<path d="M439.39,271.25 L442.74,277.95 L436.04,277.95Z" fill="#ff0000"/>
<path d="M410.16,282.93 L413.51,289.63 L406.81,289.63Z" fill="#ff0000"/>
<path d="M399.83,276.12 L403.18,282.82 L396.48,282.82Z" fill="#ff0000"/>
<path d="M428.39,281.09 L431.74,287.79 L425.04,287.79Z" fill="#ff0000"/>
<path d="M429.73,265.57 L433.08,272.27 L426.38,272.27Z" fill="#ff0000"/>
<path d="M426.26,277.05 L429.61,283.75 L422.91,283.75Z" fill="#ff0000"/>
<path d="M416.48,272.86 L419.83,279.56 L413.13,279.56Z" fill="#ff0000"/>
<path d="M421.56,268.87 L424.91,275.57 L418.21,275.57Z" fill="#ff0000"/>
<path d="M418.07,273.51 L421.42,280.21 L414.72,280.21Z" fill="#ff0000"/>
<path d="M431.62,268.39 L434.97,275.09 L428.27,275.09Z" fill="#ff0000"/>
<path d="M425.38,261.49 L428.73,268.19 L422.03,268.19Z" fill="#ff0000"/>
<path d="M418.72,270.37 L422.07,277.07 L415.37,277.07Z" fill="#ff0000"/>
<path d="M417.18,283.16 L420.53,289.86 L413.83,289.86Z" fill="#ff0000"/>
<path d="M406.70,281.88 L410.05,288.58 L403.35,288.58Z" fill="#ff0000"/>
<path d="M427.84,279.91 L431.19,286.61 L424.49,286.61Z" fill="#ff0000"/>
<path d="M430.84,263.13 L434.19,269.83 L427.49,269.83Z" fill="#ff0000"/>
<path d="M392.71,284.58 L396.06,291.28 L389.36,291.28Z" fill="#ff0000"/>
<path d="M403.37,289.25 L406.72,295.95 L400.02,295.95Z" fill="#ff0000"/>
<path d="M424.24,282.34 L427.59,289.04 L420.89,289.04Z" fill="#ff0000"/>
<path d="M441.13,274.61 L444.48,281.31 L437.78,281.31Z" fill="#ff0000"/>
<path d="M401.84,290.82 L405.19,297.52 L398.49,297.52Z" fill="#ff0000"/>
<path d="M400.76,288.70 L404.11,295.40 L397.41,295.40Z" fill="#ff0000"/>
<path d="M428.37,262.83 L431.72,269.53 L425.02,269.53Z" fill="#ff0000"/>
<path d="M427.62,271.84 L430.97,278.54 L424.27,278.54Z" fill="#ff0000"/>
<path d="M417.36,276.13 L420.71,282.83 L414.01,282.83Z" fill="#ff0000"/>
<path d="M424.18,271.54 L427.53,278.24 L420.83,278.24Z" fill="#ff0000"/>
<path d="M418.99,272.55 L422.34,279.25 L415.64,279.25Z" fill="#ff0000"/>
<path d="M418.57,280.39 L421.92,287.09 L415.22,287.09Z" fill="#ff0000"/>
<path d="M388.32,286.94 L391.67,293.64 L384.97,293.64Z" fill="#ff0000"/>
<path d="M395.67,274.37 L399.02,281.07 L392.32,281.07Z" fill="#ff0000"/>
<path d="M424.06,271.70 L427.41,278.40 L420.71,278.40Z" fill="#ff0000"/>
<path d="M427.40,275.46 L430.75,282.16 L424.05,282.16Z" fill="#ff0000"/>
<path d="M415.47,283.71 L418.82,290.41 L412.12,290.41Z" fill="#ff0000"/>
<path d="M430.88,276.71 L434.23,283.41 L427.53,283.41Z" fill="#ff0000"/>
<path d="M408.81,281.21 L412.16,287.91 L405.46,287.91Z" fill="#ff0000"/>
<path d="M419.20,266.20 L422.55,272.90 L415.85,272.90Z" fill="#ff0000"/>
<path d="M402.74,284.20 L406.09,290.90 L399.39,290.90Z" fill="#ff0000"/>
<path d="M435.17,274.00 L438.52,280.70 L431.82,280.70Z" fill="#ff0000"/>
<path d="M437.24,276.40 L440.59,283.10 L433.89,283.10Z" fill="#ff0000"/>
<path d="M416.87,272.41 L420.22,279.11 L413.52,279.11Z" fill="#ff0000"/>
<path d="M429.47,271.35 L432.82,278.05 L426.12,278.05Z" fill="#ff0000"/>
<path d="M431.04,273.14 L434.39,279.84 L427.69,279.84Z" fill="#ff0000"/>
<path d="M407.06,284.83 L410.41,291.53 L403.71,291.53Z" fill="#ff0000"/>
<path d="M423.87,267.29 L427.22,273.99 L420.52,273.99Z" fill="#ff0000"/>
<path d="M414.66,283.66 L418.01,290.36 L411.31,290.36Z" fill="#ff0000"/>
<path d="M402.60,287.97 L405.95,294.67 L399.25,294.67Z" fill="#ff0000"/>
<path d="M395.30,280.67 L398.65,287.37 L391.95,287.37Z" fill="#ff0000"/>
<path d="M422.87,268.93 L426.22,275.63 L419.52,275.63Z" fill="#ff0000"/>
<path d="M411.98,286.63 L415.33,293.33 L408.63,293.33Z" fill="#ff0000"/>
<path d="M400.03,278.34 L403.38,285.04 L396.68,285.04Z" fill="#ff0000"/>
<path d="M441.46,277.19 L444.81,283.89 L438.11,283.89Z" fill="#ff0000"/>
<path d="M400.38,289.68 L403.73,296.38 L397.03,296.38Z" fill="#ff0000"/>
<path d="M403.55,277.17 L406.90,283.87 L400.20,283.87Z" fill="#ff0000"/>
<path d="M385.61,290.99 L388.96,297.69 L382.26,297.69Z" fill="#ff0000"/>
<path d="M390.36,286.29 L393.71,292.99 L387.01,292.99Z" fill="#ff0000"/>
<path d="M436.53,269.43 L439.88,276.13 L433.18,276.13Z" fill="#ff0000"/>
<path d="M426.28,266.33 L429.63,273.03 L422.93,273.03Z" fill="#ff0000"/>
<path d="M414.62,279.17 L417.97,285.87 L411.27,285.87Z" fill="#ff0000"/>
<path d="M411.64,273.37 L414.99,280.07 L408.29,280.07Z" fill="#ff0000"/>
<path d="M414.54,278.69 L417.89,285.39 L411.19,285.39Z" fill="#ff0000"/>
<path d="M439.58,274.69 L442.93,281.39 L436.23,281.39Z" fill="#ff0000"/>
<path d="M421.97,263.61 L425.32,270.31 L418.62,270.31Z" fill="#ff0000"/>
<path d="M417.19,268.41 L420.54,275.11 L413.84,275.11Z" fill="#ff0000"/>
<path d="M405.68,285.65 L409.03,292.35 L402.33,292.35Z" fill="#ff0000"/>
<path d="M403.30,286.04 L406.65,292.74 L399.95,292.74Z" fill="#ff0000"/>
<path d="M416.81,269.85 L420.16,276.55 L413.46,276.55Z" fill="#ff0000"/>
<path d="M424.10,261.06 L427.45,267.76 L420.75,267.76Z" fill="#ff0000"/>
<path d="M434.94,277.97 L438.29,284.67 L431.59,284.67Z" fill="#ff0000"/>
<path d="M411.53,270.07 L414.88,276.77 L408.18,276.77Z" fill="#ff0000"/>
<path d="M402.66,290.63 L406.01,297.33 L399.31,297.33Z" fill="#ff0000"/>
<path d="M418.60,277.39 L421.95,284.09 L415.25,284.09Z" fill="#ff0000"/>
<path d="M416.91,265.97 L420.26,272.67 L413.56,272.67Z" fill="#ff0000"/>
<path d="M435.00,262.21 L438.35,268.91 L431.65,268.91Z" fill="#ff0000"/>
<path d="M429.05,260.89 L432.40,267.59 L425.70,267.59Z" fill="#ff0000"/>
<path d="M438.50,272.11 L441.85,278.81 L435.15,278.81Z" fill="#ff0000"/>
<path d="M423.16,263.86 L426.51,270.56 L419.81,270.56Z" fill="#ff0000"/>
<path d="M410.66,284.75 L414.01,291.45 L407.31,291.45Z" fill="#ff0000"/>
<path d="M416.15,293.94 L419.50,300.64 L412.80,300.64Z" fill="#ff0000"/>
<path d="M407.87,288.57 L411.22,295.27 L404.52,295.27Z" fill="#ff0000"/>
<path d="M425.87,294.03 L429.22,300.73 L422.52,300.73Z" fill="#ff0000"/>
<path d="M413.15,285.75 L416.50,292.45 L409.80,292.45Z" fill="#ff0000"/>
<path d="M417.04,279.68 L420.39,286.38 L413.69,286.38Z" fill="#ff0000"/>
<path d="M429.04,288.91 L432.39,295.61 L425.69,295.61Z" fill="#ff0000"/>
<path d="M422.25,290.43 L425.60,297.13 L418.90,297.13Z" fill="#ff0000"/>
<path d="M426.21,278.26 L429.56,284.96 L422.86,284.96Z" fill="#ff0000"/>
<path d="M413.99,285.52 L417.34,292.22 L410.64,292.22Z" fill="#ff0000"/>
<path d="M409.53,292.51 L412.88,299.21 L406.18,299.21Z" fill="#ff0000"/>
<path d="M428.97,293.52 L432.32,300.22 L425.62,300.22Z" fill="#ff0000"/>
<path d="M411.76,288.56 L415.11,295.26 L408.41,295.26Z" fill="#ff0000"/>
<path d="M403.18,290.56 L406.53,297.26 L399.83,297.26Z" fill="#ff0000"/>
<path d="M432.49,289.50 L435.84,296.20 L429.14,296.20Z" fill="#ff0000"/>
<path d="M417.41,295.58 L420.76,302.28 L414.06,302.28Z" fill="#ff0000"/>
<path d="M413.81,280.73 L417.16,287.43 L410.46,287.43Z" fill="#ff0000"/>
<path d="M424.05,279.37 L427.40,286.07 L420.70,286.07Z" fill="#ff0000"/>
<path d="M420.98,281.56 L424.33,288.26 L417.63,288.26Z" fill="#ff0000"/>
<path d="M415.21,296.40 L418.56,303.10 L411.86,303.10Z" fill="#ff0000"/>
<path d="M405.28,290.18 L408.63,296.88 L401.93,296.88Z" fill="#ff0000"/>
<path d="M410.23,291.44 L413.58,298.14 L406.88,298.14Z" fill="#ff0000"/>
<path d="M411.80,295.05 L415.15,301.75 L408.45,301.75Z" fill="#ff0000"/>
<path d="M419.12,280.21 L422.47,286.91 L415.77,286.91Z" fill="#ff0000"/>
<path d="M439.76,290.77 L443.11,297.47 L436.41,297.47Z" fill="#ff0000"/>
<path d="M395.93,282.75 L399.28,289.45 L392.58,289.45Z" fill="#ff0000"/>
<path d="M401.79,284.78 L405.14,291.48 L398.44,291.48Z" fill="#ff0000"/>
<path d="M401.54,286.04 L404.89,292.74 L398.19,292.74Z" fill="#ff0000"/>
<path d="M405.09,282.85 L408.44,289.55 L401.74,289.55Z" fill="#ff0000"/>
<path d="M397.08,278.17 L400.43,284.87 L393.73,284.87Z" fill="#ff0000"/>
<path d="M403.42,283.43 L406.77,290.13 L400.07,290.13Z" fill="#ff0000"/>
<path d="M405.18,282.08 L408.53,288.78 L401.83,288.78Z" fill="#ff0000"/>
<path d="M389.30,288.96 L392.65,295.66 L385.95,295.66Z" fill="#ff0000"/>
<path d="M405.59,276.29 L408.94,282.99 L402.24,282.99Z" fill="#ff0000"/>
<path d="M399.17,283.75 L402.52,290.45 L395.82,290.45Z" fill="#ff0000"/>
<path d="M395.38,292.26 L398.73,298.96 L392.03,298.96Z" fill="#ff0000"/>
<path d="M395.77,289.18 L399.12,295.88 L392.42,295.88Z" fill="#ff0000"/>
<path d="M372.70,288.20 L378.50,294.00 M378.50,288.20 L372.70,294.00" stroke="#000" stroke-width="1.3" fill="none"/>
<path d="M378.80,284.60 L384.60,290.40 M384.60,284.60 L378.80,290.40" stroke="#000" stroke-width="1.3" fill="none"/>
<path d="M382.90,277.40 L388.70,283.20 M388.70,277.40 L382.90,283.20" stroke="#000" stroke-width="1.3" fill="none"/>
<path d="M386.50,288.20 L392.30,294.00 M392.30,288.20 L386.50,294.00" stroke="#000" stroke-width="1.3" fill="none"/>
<path d="M388.10,295.40 L393.90,301.20 M393.90,295.40 L388.10,301.20" stroke="#000" stroke-width="1.3" fill="none"/>
<path d="M405.80,329.40 L411.60,335.20 M411.60,329.40 L405.80,335.20" stroke="#000" stroke-width="1.3" fill="none"/>
<path d="M417.80,322.50 L423.60,328.30 M423.60,322.50 L417.80,328.30" stroke="#000" stroke-width="1.3" fill="none"/>
<path d="M432.20,336.40 L438.00,342.20 M438.00,336.40 L432.20,342.20" stroke="#000" stroke-width="1.3" fill="none"/>
<path d="M420.10,257.80 L425.90,263.60 M425.90,257.80 L420.10,263.60" stroke="#000" stroke-width="1.3" fill="none"/>
<path d="M400.10,270.60 L405.90,276.40 M405.90,270.60 L400.10,276.40" stroke="#000" stroke-width="1.3" fill="none"/>
<path d="M394.40,273.10 L400.20,278.90 M400.20,273.10 L394.40,278.90" stroke="#000" stroke-width="1.3" fill="none"/>
<path d="M383.60,277.20 L389.40,283.00 M389.40,277.20 L383.60,283.00" stroke="#000" stroke-width="1.3" fill="none"/>
<path d="M411.30,275.70 L417.10,281.50 M417.10,275.70 L411.30,281.50" stroke="#000" stroke-width="1.3" fill="none"/>
<path d="M403.60,281.80 L409.40,287.60 M409.40,281.80 L403.60,287.60" stroke="#000" stroke-width="1.3" fill="none"/>
<path d="M398.00,285.90 L403.80,291.70 M403.80,285.90 L398.00,291.70" stroke="#000" stroke-width="1.3" fill="none"/>
<path d="M386.70,288.00 L392.50,293.80 M392.50,288.00 L386.70,293.80" stroke="#000" stroke-width="1.3" fill="none"/>
<path d="M420.20,257.60 L426.00,263.40 M426.00,257.60 L420.20,263.40" stroke="#000" stroke-width="1.3" fill="none"/>
<path d="M429.40,271.50 L435.20,277.30 M435.20,271.50 L429.40,277.30" stroke="#000" stroke-width="1.3" fill="none"/>
<path d="M420.70,273.50 L426.50,279.30 M426.50,273.50 L420.70,279.30" stroke="#000" stroke-width="1.3" fill="none"/>
<path d="M403.40,281.30 L409.20,287.10 M409.20,281.30 L403.40,287.10" stroke="#000" stroke-width="1.3" fill="none"/>
<path d="M398.30,285.90 L404.10,291.70 M404.10,285.90 L398.30,291.70" stroke="#000" stroke-width="1.3" fill="none"/>
<path d="M410.60,276.20 L416.40,282.00 M416.40,276.20 L410.60,282.00" stroke="#000" stroke-width="1.3" fill="none"/>
<path d="M402.40,292.60 L408.20,298.40 M408.20,292.60 L402.40,298.40" stroke="#000" stroke-width="1.3" fill="none"/>
<path d="M407.50,299.80 L413.30,305.60 M413.30,299.80 L407.50,305.60" stroke="#000" stroke-width="1.3" fill="none"/>
<path d="M417.70,300.80 L423.50,306.60 M423.50,300.80 L417.70,306.60" stroke="#000" stroke-width="1.3" fill="none"/>
<path d="M428.50,304.90 L434.30,310.70 M434.30,304.90 L428.50,310.70" stroke="#000" stroke-width="1.3" fill="none"/>
<path d="M431.10,299.80 L436.90,305.60 M436.90,299.80 L431.10,305.60" stroke="#000" stroke-width="1.3" fill="none"/>
<path d="M441.80,281.10 L447.60,286.90 M447.60,281.10 L441.80,286.90" stroke="#000" stroke-width="1.3" fill="none"/>
<path d="M443.10,288.80 L448.90,294.60 M448.90,288.80 L443.10,294.60" stroke="#000" stroke-width="1.3" fill="none"/>
<path d="M445.10,293.90 L450.90,299.70 M450.90,293.90 L445.10,299.70" stroke="#000" stroke-width="1.3" fill="none"/>
<path d="M443.80,299.70 L449.60,305.50 M449.60,299.70 L443.80,305.50" stroke="#000" stroke-width="1.3" fill="none"/>
<path d="M429.70,304.80 L435.50,310.60 M435.50,304.80 L429.70,310.60" stroke="#000" stroke-width="1.3" fill="none"/>
<path d="M430.30,271.50 L436.10,277.30 M436.10,271.50 L430.30,277.30" stroke="#000" stroke-width="1.3" fill="none"/>
<path d="M415.95,282.88 L421.75,288.68 M421.75,282.88 L415.95,288.68" stroke="#000" stroke-width="1.3" fill="none"/>
<path d="M403.17,293.78 L408.97,299.58 M408.97,293.78 L403.17,299.58" stroke="#000" stroke-width="1.3" fill="none"/>
<path d="M438.27,298.19 L444.07,303.99 M444.07,298.19 L438.27,303.99" stroke="#000" stroke-width="1.3" fill="none"/>
<path d="M401.47,291.43 L407.27,297.23 M407.27,291.43 L401.47,297.23" stroke="#000" stroke-width="1.3" fill="none"/>
<path d="M427.04,279.30 L432.84,285.10 M432.84,279.30 L427.04,285.10" stroke="#000" stroke-width="1.3" fill="none"/>
<path d="M421.06,286.01 L426.86,291.81 M426.86,286.01 L421.06,291.81" stroke="#000" stroke-width="1.3" fill="none"/>
<path d="M409.06,297.23 L414.86,303.03 M414.86,297.23 L409.06,303.03" stroke="#000" stroke-width="1.3" fill="none"/>
<path d="M418.46,280.58 L424.26,286.38 M424.26,280.58 L418.46,286.38" stroke="#000" stroke-width="1.3" fill="none"/>
<path d="M416.08,300.06 L421.88,305.86 M421.88,300.06 L416.08,305.86" stroke="#000" stroke-width="1.3" fill="none"/>
<path d="M417.02,282.60 L422.82,288.40 M422.82,282.60 L417.02,288.40" stroke="#000" stroke-width="1.3" fill="none"/>
<path d="M402.17,290.39 L407.97,296.19 M407.97,290.39 L402.17,296.19" stroke="#000" stroke-width="1.3" fill="none"/>
<path d="M429.81,288.01 L435.61,293.81 M435.61,288.01 L429.81,293.81" stroke="#000" stroke-width="1.3" fill="none"/>
<path d="M438.12,290.69 L443.92,296.49 M443.92,290.69 L438.12,296.49" stroke="#000" stroke-width="1.3" fill="none"/>
<path d="M435.78,291.66 L441.58,297.46 M441.58,291.66 L435.78,297.46" stroke="#000" stroke-width="1.3" fill="none"/>
<path d="M426.28,288.00 L432.08,293.80 M432.08,288.00 L426.28,293.80" stroke="#000" stroke-width="1.3" fill="none"/>
<path d="M404.15,295.01 L409.95,300.81 M409.95,295.01 L404.15,300.81" stroke="#000" stroke-width="1.3" fill="none"/>
<path d="M438.59,295.50 L444.39,301.30 M444.39,295.50 L438.59,301.30" stroke="#000" stroke-width="1.3" fill="none"/>
<path d="M418.40,280.19 L424.20,285.99 M424.20,280.19 L418.40,285.99" stroke="#000" stroke-width="1.3" fill="none"/>
<path d="M407.65,291.33 L413.45,297.13 M413.45,291.33 L407.65,297.13" stroke="#000" stroke-width="1.3" fill="none"/>
<path d="M429.41,278.73 L435.21,284.53 M435.21,278.73 L429.41,284.53" stroke="#000" stroke-width="1.3" fill="none"/>
<path d="M442.47,295.25 L448.27,301.05 M448.27,295.25 L442.47,301.05" stroke="#000" stroke-width="1.3" fill="none"/>
<path d="M432.33,301.82 L438.13,307.62 M438.13,301.82 L432.33,307.62" stroke="#000" stroke-width="1.3" fill="none"/>
<path d="M427.66,289.92 L433.46,295.72 M433.46,289.92 L427.66,295.72" stroke="#000" stroke-width="1.3" fill="none"/>
<path d="M409.42,294.55 L415.22,300.35 M415.22,294.55 L409.42,300.35" stroke="#000" stroke-width="1.3" fill="none"/>
<path d="M431.27,300.97 L437.07,306.77 M437.07,300.97 L431.27,306.77" stroke="#000" stroke-width="1.3" fill="none"/>
<path d="M442.06,289.89 L447.86,295.69 M447.86,289.89 L442.06,295.69" stroke="#000" stroke-width="1.3" fill="none"/>
<path d="M418.27,292.65 L424.07,298.45 M424.07,292.65 L418.27,298.45" stroke="#000" stroke-width="1.3" fill="none"/>
<path d="M426.40,289.63 L432.20,295.43 M432.20,289.63 L426.40,295.43" stroke="#000" stroke-width="1.3" fill="none"/>
<path d="M420.68,283.42 L426.48,289.22 M426.48,283.42 L420.68,289.22" stroke="#000" stroke-width="1.3" fill="none"/>
<path d="M407.73,285.50 L413.53,291.30 M413.53,285.50 L407.73,291.30" stroke="#000" stroke-width="1.3" fill="none"/>
<path d="M426.33,293.93 L432.13,299.73 M432.13,293.93 L426.33,299.73" stroke="#000" stroke-width="1.3" fill="none"/>
<path d="M436.79,284.99 L442.59,290.79 M442.59,284.99 L436.79,290.79" stroke="#000" stroke-width="1.3" fill="none"/>
<path d="M422.83,288.98 L428.63,294.78 M428.63,288.98 L422.83,294.78" stroke="#000" stroke-width="1.3" fill="none"/>
<path d="M414.53,294.68 L420.33,300.48 M420.33,294.68 L414.53,300.48" stroke="#000" stroke-width="1.3" fill="none"/>
<path d="M430.91,296.60 L436.71,302.40 M436.71,296.60 L430.91,302.40" stroke="#000" stroke-width="1.3" fill="none"/>
<path d="M437.44,300.81 L443.24,306.61 M443.24,300.81 L437.44,306.61" stroke="#000" stroke-width="1.3" fill="none"/>
<path d="M413.86,294.14 L419.66,299.94 M419.66,294.14 L413.86,299.94" stroke="#000" stroke-width="1.3" fill="none"/>
<path d="M413.67,285.25 L419.47,291.05 M419.47,285.25 L413.67,291.05" stroke="#000" stroke-width="1.3" fill="none"/>
<path d="M435.57,296.09 L441.37,301.89 M441.37,296.09 L435.57,301.89" stroke="#000" stroke-width="1.3" fill="none"/>
<path d="M432.77,281.05 L438.57,286.85 M438.57,281.05 L432.77,286.85" stroke="#000" stroke-width="1.3" fill="none"/>
<path d="M443.59,293.18 L449.39,298.98 M449.39,293.18 L443.59,298.98" stroke="#000" stroke-width="1.3" fill="none"/>
<path d="M420.49,300.01 L426.29,305.81 M426.29,300.01 L420.49,305.81" stroke="#000" stroke-width="1.3" fill="none"/>
<path d="M405.69,285.96 L411.49,291.76 M411.49,285.96 L405.69,291.76" stroke="#000" stroke-width="1.3" fill="none"/>
<path d="M435.29,281.70 L441.09,287.50 M441.09,281.70 L435.29,287.50" stroke="#000" stroke-width="1.3" fill="none"/>
<path d="M434.12,292.45 L439.92,298.25 M439.92,292.45 L434.12,298.25" stroke="#000" stroke-width="1.3" fill="none"/>
<path d="M414.26,298.49 L420.06,304.29 M420.06,298.49 L414.26,304.29" stroke="#000" stroke-width="1.3" fill="none"/>
<path d="M422.11,287.71 L427.91,293.51 M427.91,287.71 L422.11,293.51" stroke="#000" stroke-width="1.3" fill="none"/>
<path d="M424.36,293.97 L430.16,299.77 M430.16,293.97 L424.36,299.77" stroke="#000" stroke-width="1.3" fill="none"/>
<path d="M420.07,282.87 L425.87,288.67 M425.87,282.87 L420.07,288.67" stroke="#000" stroke-width="1.3" fill="none"/>
<path d="M403.88,296.23 L409.68,302.03 M409.68,296.23 L403.88,302.03" stroke="#000" stroke-width="1.3" fill="none"/>
<path d="M436.45,292.93 L442.25,298.73 M442.25,292.93 L436.45,298.73" stroke="#000" stroke-width="1.3" fill="none"/>
<path d="M435.43,297.17 L441.23,302.97 M441.23,297.17 L435.43,302.97" stroke="#000" stroke-width="1.3" fill="none"/>
<path d="M424.14,284.46 L429.94,290.26 M429.94,284.46 L424.14,290.26" stroke="#000" stroke-width="1.3" fill="none"/>
<path d="M437.01,289.51 L442.81,295.31 M442.81,289.51 L437.01,295.31" stroke="#000" stroke-width="1.3" fill="none"/>
<path d="M429.48,287.08 L435.28,292.88 M435.28,287.08 L429.48,292.88" stroke="#000" stroke-width="1.3" fill="none"/>
<path d="M420.70,289.19 L426.50,294.99 M426.50,289.19 L420.70,294.99" stroke="#000" stroke-width="1.3" fill="none"/>
<path d="M426.64,287.88 L432.44,293.68 M432.44,287.88 L426.64,293.68" stroke="#000" stroke-width="1.3" fill="none"/>
<path d="M432.61,293.77 L438.41,299.57 M438.41,293.77 L432.61,299.57" stroke="#000" stroke-width="1.3" fill="none"/>
<path d="M434.72,294.95 L440.52,300.75 M440.52,294.95 L434.72,300.75" stroke="#000" stroke-width="1.3" fill="none"/>
<path d="M419.56,293.19 L425.36,298.99 M425.36,293.19 L419.56,298.99" stroke="#000" stroke-width="1.3" fill="none"/>
<path d="M432.65,297.13 L438.45,302.93 M438.45,297.13 L432.65,302.93" stroke="#000" stroke-width="1.3" fill="none"/>
<path d="M439.81,285.17 L445.61,290.97 M445.61,285.17 L439.81,290.97" stroke="#000" stroke-width="1.3" fill="none"/>
<path d="M434.72,295.39 L440.52,301.19 M440.52,295.39 L434.72,301.19" stroke="#000" stroke-width="1.3" fill="none"/>
<path d="M434.97,297.28 L440.77,303.08 M440.77,297.28 L434.97,303.08" stroke="#000" stroke-width="1.3" fill="none"/>
<path d="M431.54,284.77 L437.34,290.57 M437.34,284.77 L431.54,290.57" stroke="#000" stroke-width="1.3" fill="none"/>
<path d="M423.10,290.06 L428.90,295.86 M428.90,290.06 L423.10,295.86" stroke="#000" stroke-width="1.3" fill="none"/>
<path d="M437.73,289.09 L443.53,294.89 M443.53,289.09 L437.73,294.89" stroke="#000" stroke-width="1.3" fill="none"/>
<path d="M436.13,282.61 L441.93,288.41 M441.93,282.61 L436.13,288.41" stroke="#000" stroke-width="1.3" fill="none"/>
<path d="M443.39,289.58 L449.19,295.38 M449.19,289.58 L443.39,295.38" stroke="#000" stroke-width="1.3" fill="none"/>
<path d="M439.77,294.68 L445.57,300.48 M445.57,294.68 L439.77,300.48" stroke="#000" stroke-width="1.3" fill="none"/>
<path d="M438.62,287.77 L444.42,293.57 M444.42,287.77 L438.62,293.57" stroke="#000" stroke-width="1.3" fill="none"/>
<path d="M421.86,289.21 L427.66,295.01 M427.66,289.21 L421.86,295.01" stroke="#000" stroke-width="1.3" fill="none"/>
<path d="M427.38,288.07 L433.18,293.87 M433.18,288.07 L427.38,293.87" stroke="#000" stroke-width="1.3" fill="none"/>
<path d="M438.66,283.43 L444.46,289.23 M444.46,283.43 L438.66,289.23" stroke="#000" stroke-width="1.3" fill="none"/>
<path d="M433.94,287.03 L439.74,292.83 M439.74,287.03 L433.94,292.83" stroke="#000" stroke-width="1.3" fill="none"/>
<path d="M425.16,287.95 L430.96,293.75 M430.96,287.95 L425.16,293.75" stroke="#000" stroke-width="1.3" fill="none"/>
<path d="M442.46,291.67 L448.26,297.47 M448.26,291.67 L442.46,297.47" stroke="#000" stroke-width="1.3" fill="none"/>
<path d="M432.05,296.17 L437.85,301.97 M437.85,296.17 L432.05,301.97" stroke="#000" stroke-width="1.3" fill="none"/>
<path d="M431.69,282.35 L437.49,288.15 M437.49,282.35 L431.69,288.15" stroke="#000" stroke-width="1.3" fill="none"/>
<path d="M422.38,294.47 L428.18,300.27 M428.18,294.47 L422.38,300.27" stroke="#000" stroke-width="1.3" fill="none"/>
<path d="M430.77,284.28 L436.57,290.08 M436.57,284.28 L430.77,290.08" stroke="#000" stroke-width="1.3" fill="none"/>
<path d="M438.67,286.44 L444.47,292.24 M444.47,286.44 L438.67,292.24" stroke="#000" stroke-width="1.3" fill="none"/>
<path d="M437.75,290.65 L443.55,296.45 M443.55,290.65 L437.75,296.45" stroke="#000" stroke-width="1.3" fill="none"/>
<path d="M420.01,294.36 L425.81,300.16 M425.81,294.36 L420.01,300.16" stroke="#000" stroke-width="1.3" fill="none"/>
<path d="M426.40,288.79 L432.20,294.59 M432.20,288.79 L426.40,294.59" stroke="#000" stroke-width="1.3" fill="none"/>
</g>
<rect x="353.0" y="216.6" width="134.00" height="136.80" fill="none" stroke="#000" stroke-width="0.9"/>
<path d="M353.00,353.40 l0,3.8 M397.67,353.40 l0,3.8 M442.33,353.40 l0,3.8 M487.00,353.40 l0,3.8" stroke="#000" stroke-width="0.88"/>
<path d="M366.45,353.40 l0,2.2 M374.31,353.40 l0,2.2 M379.89,353.40 l0,2.2 M384.22,353.40 l0,2.2 M387.76,353.40 l0,2.2 M390.75,353.40 l0,2.2 M393.34,353.40 l0,2.2 M395.62,353.40 l0,2.2 M411.11,353.40 l0,2.2 M418.98,353.40 l0,2.2 M424.56,353.40 l0,2.2 M428.89,353.40 l0,2.2 M432.42,353.40 l0,2.2 M435.41,353.40 l0,2.2 M438.00,353.40 l0,2.2 M440.29,353.40 l0,2.2 M455.78,353.40 l0,2.2 M463.64,353.40 l0,2.2 M469.23,353.40 l0,2.2 M473.55,353.40 l0,2.2 M477.09,353.40 l0,2.2 M480.08,353.40 l0,2.2 M482.67,353.40 l0,2.2 M484.96,353.40 l0,2.2" stroke="#000" stroke-width="0.66"/>
<path d="M353.0,336.30 l-3.8,0 M353.0,302.10 l-3.8,0 M353.0,267.90 l-3.8,0 M353.0,233.70 l-3.8,0" stroke="#000" stroke-width="0.8"/>
<text transform="translate(343.51,367.79) scale(1.0516,1)" font-size="11.16" fill="#000" >10</text>
<text transform="translate(357.16,363.82) scale(1.0654,1)" font-size="8.05" fill="#000" >0</text>
<text transform="translate(388.37,367.79) scale(1.0516,1)" font-size="11.16" fill="#000" >10</text>
<text transform="translate(401.71,363.9) scale(1.0358,1)" font-size="8.29" fill="#000" >1</text>
<text transform="translate(432.84,367.79) scale(1.0516,1)" font-size="11.16" fill="#000" >10</text>
<text transform="translate(446.38,363.9) scale(1.1025,1)" font-size="8.16" fill="#000" >2</text>
<text transform="translate(477.51,367.79) scale(1.0516,1)" font-size="11.16" fill="#000" >10</text>
<text transform="translate(491.17,363.82) scale(1.0741,1)" font-size="8.05" fill="#000" >3</text>
<text transform="translate(311.25,210.3) scale(1.1855,1)" font-size="11" fill="#000" >c)</text>
<rect x="333.2" y="335.90" width="6.4" height="0.85" fill="#000"/>
<text transform="translate(339.96,340.4) scale(1.1112,1)" font-size="11.46" fill="#000" >2</text>
<text transform="translate(340.13,306.09) scale(1.0738,1)" font-size="11.3" fill="#000" >0</text>
<text transform="translate(339.96,272) scale(1.1112,1)" font-size="11.46" fill="#000" >2</text>
<text transform="translate(340.34,237.8) scale(0.9898,1)" font-size="11.63" fill="#000" >4</text>
<g transform="translate(325.8,329.2) rotate(-90)">
<text transform="translate(-1.01,0) scale(1.1189,1)" font-size="11" fill="#000" >Mean depth</text>
<text transform="translate(67.46,0) scale(1.4591,1)" font-size="11" fill="#000" >[m]</text>
</g>
<text transform="translate(393.38,383) scale(1.0683,1)" font-size="11" fill="#000" >Area</text>
<text transform="translate(421.4,383) scale(1.2698,1)" font-size="11" fill="#000" >[m</text>
<text transform="translate(436.49,378.8) scale(1.3558,1)" font-size="7.45" fill="#000" >2</text>
<text transform="translate(443.92,383) scale(0.9149,1)" font-size="11" fill="#000" >]</text>
<rect x="5.4" y="312.4" width="293.6" height="71.6" fill="#fff" stroke="#000" stroke-width="1"/>
<path d="M17.70,319.85 L20.85,326.15 L14.55,326.15Z" fill="#ff0000"/>
<path d="M15.05,333.30 L20.35,338.60 M20.35,333.30 L15.05,338.60" stroke="#000" stroke-width="1.3" fill="none"/>
<path d="M8.9,348.90 L26.6,348.90" stroke="#808080" stroke-width="0.9" stroke-dasharray="2.4,1.2"/>
<path d="M8.9,361.85 L26.6,361.85" stroke="#000" stroke-width="1.1"/>
<path d="M8.9,374.80 L26.6,374.80" stroke="#000" stroke-width="1.1" stroke-dasharray="3.3,1.9"/>
<g class="lg">
<text transform="translate(32.71,325.9) scale(1.0894,1)" font-size="8.8" fill="#000" >RF landslides Sellrain</text>
<text transform="translate(33.01,338.85) scale(1.0979,1)" font-size="8.8" fill="#000" >BFW landslides Sellrain</text>
<text transform="translate(33.58,364.75) scale(1.1330,1)" font-size="8.8" fill="#000" >Best fit RF data: a=0.004, r=32.6, s=-8.78e-05, N</text>
<text transform="translate(33.58,377.7) scale(1.1320,1)" font-size="8.8" fill="#000" >Best fit BFW data: a=0.052, r=139.6, s=-3.22e-04, N</text>
<text transform="translate(33.34,351.8) scale(0.9173,1)" font-size="8.8" fill="#000" >M</text>
<text transform="translate(39.73,353.2) scale(1.1875,1)" font-size="5.95" fill="#000" >n</text>
<text transform="translate(44.69,351.8) scale(1.1354,1)" font-size="8.8" fill="#000" >: a=1.28E-03, r=1.40, s=-1.32E.04, N</text>
<text transform="translate(208.27,353.4) scale(1.3766,1)" font-size="4.65" fill="#000" >LT</text>
<text transform="translate(249.67,366.35) scale(1.3766,1)" font-size="4.65" fill="#000" >LT</text>
<text transform="translate(263.69,379.3) scale(1.3361,1)" font-size="4.65" fill="#000" >LT</text>
<text transform="translate(216.02,351.8) scale(1.3507,1)" font-size="8.8" fill="#000" >=n</text>
<text transform="translate(257.7,364.75) scale(1.1602,1)" font-size="8.8" fill="#000" >=204</text>
<text transform="translate(271.48,377.7) scale(1.2024,1)" font-size="8.8" fill="#000" >=141</text>
</g>
</svg></body></html>
